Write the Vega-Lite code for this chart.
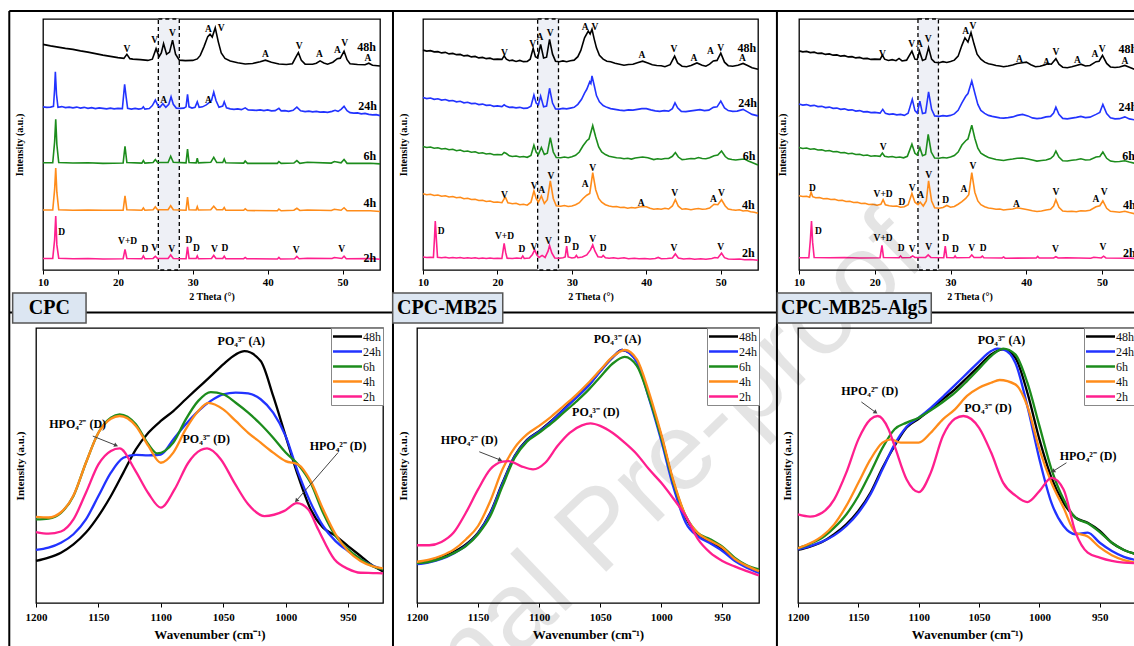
{
  "$schema": "https://vega.github.io/schema/vega-lite/v6.json",
  "autosize": {"type": "pad"},
  "padding": {"left": 7, "top": 9, "right": 0, "bottom": 0},
  "background": "white",
  "config": {
    "font": "Liberation Serif",
    "view": {"stroke": "#000", "strokeWidth": 1.3},
    "axis": {"domain": false, "grid": false, "tickColor": "#000", "tickSize": 4, "tickWidth": 1, "labelColor": "#000", "labelFontWeight": "bold", "titleColor": "#000", "titleFontWeight": "bold", "labelFont": "Liberation Serif", "titleFont": "Liberation Serif", "labelFlush": false},
    "text": {"font": "Liberation Serif", "fontWeight": "bold", "color": "#000"}
  },
  "datasets": {
    "x1": [
      {"t":"48h","x":10,"y":89.9},{"t":"48h","x":11,"y":89.3},{"t":"48h","x":12,"y":88.8},{"t":"48h","x":13,"y":88.3},{"t":"48h","x":14,"y":87.9},{"t":"48h","x":15,"y":87.3},{"t":"48h","x":16,"y":86.8},{"t":"48h","x":17,"y":86.2},{"t":"48h","x":18,"y":85.6},{"t":"48h","x":19,"y":85.1},{"t":"48h","x":20,"y":84.6},{"t":"48h","x":20.8,"y":84.3},{"t":"48h","x":21.2,"y":85.9},{"t":"48h","x":21.6,"y":84.2},{"t":"48h","x":22,"y":84},{"t":"48h","x":23,"y":83.8},{"t":"48h","x":24,"y":83.5},{"t":"48h","x":24.6,"y":84},{"t":"48h","x":25.1,"y":88.2},{"t":"48h","x":25.5,"y":85},{"t":"48h","x":25.8,"y":86.5},{"t":"48h","x":26.1,"y":90.2},{"t":"48h","x":26.5,"y":86},{"t":"48h","x":26.9,"y":86.8},{"t":"48h","x":27.3,"y":91.6},{"t":"48h","x":27.7,"y":86},{"t":"48h","x":28.2,"y":83.6},{"t":"48h","x":29,"y":83.4},{"t":"48h","x":30,"y":83.5},{"t":"48h","x":30.6,"y":84.1},{"t":"48h","x":31,"y":85.5},{"t":"48h","x":31.5,"y":89},{"t":"48h","x":32,"y":93},{"t":"48h","x":32.3,"y":93.9},{"t":"48h","x":32.6,"y":92.8},{"t":"48h","x":33,"y":96.5},{"t":"48h","x":33.4,"y":91},{"t":"48h","x":33.8,"y":86.5},{"t":"48h","x":34.3,"y":84.3},{"t":"48h","x":35,"y":83.3},{"t":"48h","x":36,"y":82.6},{"t":"48h","x":37,"y":82.1},{"t":"48h","x":38,"y":82.3},{"t":"48h","x":39,"y":83},{"t":"48h","x":39.7,"y":83.6},{"t":"48h","x":40.5,"y":82.8},{"t":"48h","x":41.5,"y":82.1},{"t":"48h","x":42.5,"y":81.9},{"t":"48h","x":43.3,"y":82.2},{"t":"48h","x":43.8,"y":85},{"t":"48h","x":44.1,"y":86.6},{"t":"48h","x":44.5,"y":83.5},{"t":"48h","x":45,"y":82},{"t":"48h","x":46,"y":82},{"t":"48h","x":46.5,"y":82.4},{"t":"48h","x":47,"y":83.3},{"t":"48h","x":47.5,"y":82.5},{"t":"48h","x":48,"y":82},{"t":"48h","x":48.7,"y":82.8},{"t":"48h","x":49.3,"y":84.2},{"t":"48h","x":49.7,"y":84.4},{"t":"48h","x":50.2,"y":87.2},{"t":"48h","x":50.6,"y":83.8},{"t":"48h","x":51,"y":82.2},{"t":"48h","x":52,"y":81.9},{"t":"48h","x":53,"y":81.8},{"t":"48h","x":53.5,"y":82.4},{"t":"48h","x":54,"y":81.6},{"t":"48h","x":55,"y":81.3},
      {"t":"24h","x":10,"y":65},{"t":"24h","x":10.5,"y":64.8},{"t":"24h","x":11,"y":64.9},{"t":"24h","x":11.4,"y":65.2},{"t":"24h","x":11.55,"y":72},{"t":"24h","x":11.65,"y":79},{"t":"24h","x":11.8,"y":70},{"t":"24h","x":12,"y":64.8},{"t":"24h","x":12.5,"y":65.1},{"t":"24h","x":13,"y":64.7},{"t":"24h","x":13.5,"y":64.9},{"t":"24h","x":14,"y":64.6},{"t":"24h","x":14.5,"y":64.9},{"t":"24h","x":15,"y":64.5},{"t":"24h","x":15.5,"y":64.8},{"t":"24h","x":16,"y":64.4},{"t":"24h","x":16.5,"y":64.7},{"t":"24h","x":17,"y":64.3},{"t":"24h","x":17.5,"y":64.6},{"t":"24h","x":18,"y":64.4},{"t":"24h","x":18.5,"y":64.2},{"t":"24h","x":19,"y":64.5},{"t":"24h","x":19.5,"y":64.2},{"t":"24h","x":20,"y":64.4},{"t":"24h","x":20.6,"y":64.3},{"t":"24h","x":20.9,"y":74},{"t":"24h","x":21.1,"y":69},{"t":"24h","x":21.3,"y":64.4},{"t":"24h","x":21.8,"y":64.1},{"t":"24h","x":22.3,"y":64.4},{"t":"24h","x":22.8,"y":64.1},{"t":"24h","x":23.2,"y":64.3},{"t":"24h","x":23.4,"y":65},{"t":"24h","x":23.6,"y":64.1},{"t":"24h","x":24.2,"y":64.3},{"t":"24h","x":24.6,"y":65.5},{"t":"24h","x":25,"y":67.7},{"t":"24h","x":25.3,"y":65.8},{"t":"24h","x":25.6,"y":64.8},{"t":"24h","x":26,"y":66.2},{"t":"24h","x":26.4,"y":64.8},{"t":"24h","x":26.8,"y":66},{"t":"24h","x":27.1,"y":69},{"t":"24h","x":27.4,"y":66},{"t":"24h","x":27.8,"y":64.5},{"t":"24h","x":28.3,"y":64.4},{"t":"24h","x":28.8,"y":64.5},{"t":"24h","x":29.1,"y":65},{"t":"24h","x":29.3,"y":70},{"t":"24h","x":29.5,"y":65},{"t":"24h","x":29.9,"y":64.5},{"t":"24h","x":30.3,"y":64.8},{"t":"24h","x":30.6,"y":67},{"t":"24h","x":30.85,"y":64.8},{"t":"24h","x":31.3,"y":65},{"t":"24h","x":31.8,"y":65.8},{"t":"24h","x":32.1,"y":66.5},{"t":"24h","x":32.5,"y":67.5},{"t":"24h","x":32.8,"y":70.9},{"t":"24h","x":33.1,"y":67.5},{"t":"24h","x":33.5,"y":64.8},{"t":"24h","x":34,"y":65.3},{"t":"24h","x":34.2,"y":67},{"t":"24h","x":34.5,"y":64.6},{"t":"24h","x":35,"y":64.2},{"t":"24h","x":35.5,"y":64},{"t":"24h","x":36,"y":64.2},{"t":"24h","x":36.5,"y":63.9},{"t":"24h","x":37,"y":64.6},{"t":"24h","x":37.4,"y":63.8},{"t":"24h","x":38,"y":63.7},{"t":"24h","x":38.5,"y":63.6},{"t":"24h","x":39,"y":63.8},{"t":"24h","x":39.5,"y":63.5},{"t":"24h","x":40,"y":63.8},{"t":"24h","x":40.5,"y":63.4},{"t":"24h","x":41,"y":63.5},{"t":"24h","x":41.5,"y":64.4},{"t":"24h","x":41.8,"y":63.4},{"t":"24h","x":42.3,"y":63.5},{"t":"24h","x":42.8,"y":63.2},{"t":"24h","x":43.4,"y":63.6},{"t":"24h","x":43.9,"y":64.9},{"t":"24h","x":44.4,"y":63.4},{"t":"24h","x":45,"y":63.1},{"t":"24h","x":45.5,"y":63.3},{"t":"24h","x":46,"y":63},{"t":"24h","x":46.5,"y":63.2},{"t":"24h","x":47,"y":62.9},{"t":"24h","x":47.5,"y":63},{"t":"24h","x":48,"y":62.8},{"t":"24h","x":48.6,"y":63.2},{"t":"24h","x":49,"y":63.6},{"t":"24h","x":49.4,"y":63.2},{"t":"24h","x":49.8,"y":64},{"t":"24h","x":50.2,"y":65.2},{"t":"24h","x":50.6,"y":63.5},{"t":"24h","x":51,"y":62.7},{"t":"24h","x":51.5,"y":62.5},{"t":"24h","x":52,"y":62.6},{"t":"24h","x":52.5,"y":62.2},{"t":"24h","x":53,"y":62.4},{"t":"24h","x":53.5,"y":62},{"t":"24h","x":54,"y":61.8},{"t":"24h","x":54.5,"y":61.9},{"t":"24h","x":55,"y":61.5},
      {"t":"6h","x":10,"y":42.7},{"t":"6h","x":11.3,"y":42.7},{"t":"6h","x":11.55,"y":51},{"t":"6h","x":11.7,"y":60},{"t":"6h","x":11.85,"y":50},{"t":"6h","x":12.1,"y":42.8},{"t":"6h","x":14,"y":42.6},{"t":"6h","x":16,"y":42.7},{"t":"6h","x":18,"y":42.5},{"t":"6h","x":20.7,"y":42.6},{"t":"6h","x":20.95,"y":49.3},{"t":"6h","x":21.2,"y":42.8},{"t":"6h","x":23.2,"y":42.6},{"t":"6h","x":23.4,"y":43.6},{"t":"6h","x":23.6,"y":42.6},{"t":"6h","x":24.7,"y":42.8},{"t":"6h","x":25,"y":44},{"t":"6h","x":25.3,"y":42.8},{"t":"6h","x":26.7,"y":42.8},{"t":"6h","x":27.05,"y":45.3},{"t":"6h","x":27.4,"y":42.9},{"t":"6h","x":29.1,"y":42.7},{"t":"6h","x":29.3,"y":48.2},{"t":"6h","x":29.5,"y":42.8},{"t":"6h","x":30.45,"y":42.7},{"t":"6h","x":30.6,"y":44.5},{"t":"6h","x":30.75,"y":42.7},{"t":"6h","x":32.4,"y":42.9},{"t":"6h","x":32.8,"y":44.9},{"t":"6h","x":33.2,"y":42.8},{"t":"6h","x":34,"y":42.8},{"t":"6h","x":34.2,"y":44.2},{"t":"6h","x":34.4,"y":42.7},{"t":"6h","x":36.8,"y":42.6},{"t":"6h","x":37,"y":43.4},{"t":"6h","x":37.3,"y":42.5},{"t":"6h","x":41.3,"y":42.5},{"t":"6h","x":41.5,"y":43.2},{"t":"6h","x":41.8,"y":42.5},{"t":"6h","x":43.5,"y":42.6},{"t":"6h","x":43.9,"y":43.6},{"t":"6h","x":44.3,"y":42.5},{"t":"6h","x":45.3,"y":42.9},{"t":"6h","x":48.5,"y":42.6},{"t":"6h","x":48.9,"y":43.2},{"t":"6h","x":49.8,"y":42.7},{"t":"6h","x":50.2,"y":44},{"t":"6h","x":50.6,"y":42.5},{"t":"6h","x":53.7,"y":42.5},{"t":"6h","x":55,"y":42.3},
      {"t":"4h","x":10,"y":23.9},{"t":"4h","x":11.3,"y":23.9},{"t":"4h","x":11.55,"y":32},{"t":"4h","x":11.7,"y":40.6},{"t":"4h","x":11.85,"y":31},{"t":"4h","x":12.1,"y":24},{"t":"4h","x":14,"y":23.8},{"t":"4h","x":16,"y":23.9},{"t":"4h","x":18,"y":23.8},{"t":"4h","x":20.7,"y":23.8},{"t":"4h","x":20.95,"y":29.5},{"t":"4h","x":21.2,"y":24},{"t":"4h","x":23.2,"y":23.8},{"t":"4h","x":23.4,"y":24.7},{"t":"4h","x":23.6,"y":23.8},{"t":"4h","x":24.7,"y":24},{"t":"4h","x":25,"y":25.2},{"t":"4h","x":25.3,"y":24},{"t":"4h","x":26.7,"y":24},{"t":"4h","x":27.05,"y":25.6},{"t":"4h","x":27.4,"y":24},{"t":"4h","x":29.1,"y":23.8},{"t":"4h","x":29.3,"y":29},{"t":"4h","x":29.5,"y":24},{"t":"4h","x":30.45,"y":23.9},{"t":"4h","x":30.6,"y":25.2},{"t":"4h","x":30.75,"y":23.9},{"t":"4h","x":32.4,"y":24},{"t":"4h","x":32.8,"y":25.4},{"t":"4h","x":33.2,"y":24},{"t":"4h","x":34,"y":24},{"t":"4h","x":34.2,"y":24.9},{"t":"4h","x":34.4,"y":23.8},{"t":"4h","x":36.8,"y":23.8},{"t":"4h","x":37,"y":24.4},{"t":"4h","x":37.3,"y":23.7},{"t":"4h","x":41.3,"y":23.6},{"t":"4h","x":41.5,"y":24.3},{"t":"4h","x":41.8,"y":23.6},{"t":"4h","x":43.5,"y":23.8},{"t":"4h","x":43.9,"y":24.6},{"t":"4h","x":44.3,"y":23.7},{"t":"4h","x":45.3,"y":23.9},{"t":"4h","x":48.5,"y":23.7},{"t":"4h","x":48.9,"y":24.2},{"t":"4h","x":49.8,"y":23.8},{"t":"4h","x":50.2,"y":24.8},{"t":"4h","x":50.6,"y":23.6},{"t":"4h","x":53.7,"y":23.6},{"t":"4h","x":55,"y":23.3},
      {"t":"2h","x":10,"y":4.6},{"t":"2h","x":11.3,"y":4.6},{"t":"2h","x":11.55,"y":12},{"t":"2h","x":11.7,"y":21.5},{"t":"2h","x":11.85,"y":10},{"t":"2h","x":12.1,"y":4.7},{"t":"2h","x":14,"y":4.5},{"t":"2h","x":16,"y":4.6},{"t":"2h","x":18,"y":4.4},{"t":"2h","x":20.7,"y":4.5},{"t":"2h","x":20.95,"y":8.2},{"t":"2h","x":21.2,"y":4.6},{"t":"2h","x":23.2,"y":4.5},{"t":"2h","x":23.4,"y":5.6},{"t":"2h","x":23.6,"y":4.5},{"t":"2h","x":24.7,"y":4.6},{"t":"2h","x":25,"y":5.4},{"t":"2h","x":25.3,"y":4.6},{"t":"2h","x":26.7,"y":4.6},{"t":"2h","x":27.05,"y":6},{"t":"2h","x":27.4,"y":4.6},{"t":"2h","x":29.1,"y":4.5},{"t":"2h","x":29.3,"y":9.2},{"t":"2h","x":29.5,"y":4.6},{"t":"2h","x":30.45,"y":4.6},{"t":"2h","x":30.6,"y":5.6},{"t":"2h","x":30.75,"y":4.5},{"t":"2h","x":32.5,"y":4.6},{"t":"2h","x":32.8,"y":5.8},{"t":"2h","x":33.1,"y":4.6},{"t":"2h","x":34,"y":4.6},{"t":"2h","x":34.2,"y":5.5},{"t":"2h","x":34.4,"y":4.5},{"t":"2h","x":36.8,"y":4.5},{"t":"2h","x":37,"y":5},{"t":"2h","x":37.2,"y":4.5},{"t":"2h","x":41.3,"y":4.4},{"t":"2h","x":41.5,"y":5},{"t":"2h","x":41.7,"y":4.4},{"t":"2h","x":43.6,"y":4.5},{"t":"2h","x":43.9,"y":5.4},{"t":"2h","x":44.2,"y":4.5},{"t":"2h","x":45.3,"y":4.7},{"t":"2h","x":48.6,"y":4.6},{"t":"2h","x":48.9,"y":5},{"t":"2h","x":49.9,"y":4.6},{"t":"2h","x":50.2,"y":5.5},{"t":"2h","x":50.5,"y":4.5},{"t":"2h","x":53.7,"y":4.6},{"t":"2h","x":55,"y":4.3}
    ],
    "x2": [
      {"t":"48h","x":10,"y":87.6},{"t":"48h","x":10.5,"y":87.2},{"t":"48h","x":11,"y":87.4},{"t":"48h","x":11.5,"y":86.9},{"t":"48h","x":12,"y":87},{"t":"48h","x":12.5,"y":86.5},{"t":"48h","x":13,"y":86.7},{"t":"48h","x":13.5,"y":86.1},{"t":"48h","x":14,"y":86.3},{"t":"48h","x":14.5,"y":85.8},{"t":"48h","x":15,"y":85.9},{"t":"48h","x":15.5,"y":85.3},{"t":"48h","x":16,"y":85.5},{"t":"48h","x":16.5,"y":84.9},{"t":"48h","x":17,"y":85.1},{"t":"48h","x":17.5,"y":84.5},{"t":"48h","x":18,"y":84.7},{"t":"48h","x":18.5,"y":84.2},{"t":"48h","x":19,"y":84.4},{"t":"48h","x":19.5,"y":83.9},{"t":"48h","x":20,"y":84},{"t":"48h","x":20.6,"y":83.9},{"t":"48h","x":20.9,"y":85.3},{"t":"48h","x":21.2,"y":84},{"t":"48h","x":21.6,"y":83.4},{"t":"48h","x":22,"y":83.6},{"t":"48h","x":22.5,"y":83.1},{"t":"48h","x":23,"y":83.5},{"t":"48h","x":23.5,"y":83},{"t":"48h","x":24,"y":83.1},{"t":"48h","x":24.4,"y":84},{"t":"48h","x":24.8,"y":88.3},{"t":"48h","x":25.1,"y":85},{"t":"48h","x":25.4,"y":84.5},{"t":"48h","x":25.8,"y":89.9},{"t":"48h","x":26.2,"y":84.5},{"t":"48h","x":26.6,"y":84.8},{"t":"48h","x":27,"y":91.9},{"t":"48h","x":27.4,"y":86},{"t":"48h","x":27.8,"y":83.2},{"t":"48h","x":28.3,"y":83},{"t":"48h","x":28.8,"y":83.3},{"t":"48h","x":29.3,"y":83},{"t":"48h","x":29.8,"y":83.4},{"t":"48h","x":30.3,"y":83.6},{"t":"48h","x":30.8,"y":85},{"t":"48h","x":31.2,"y":87.5},{"t":"48h","x":31.7,"y":92.5},{"t":"48h","x":32.2,"y":95.2},{"t":"48h","x":32.45,"y":94},{"t":"48h","x":32.7,"y":95.9},{"t":"48h","x":33,"y":92},{"t":"48h","x":33.3,"y":88.5},{"t":"48h","x":33.7,"y":85.5},{"t":"48h","x":34.2,"y":84},{"t":"48h","x":34.7,"y":83.2},{"t":"48h","x":35.2,"y":83},{"t":"48h","x":35.8,"y":82.4},{"t":"48h","x":36.4,"y":82},{"t":"48h","x":37,"y":81.6},{"t":"48h","x":37.6,"y":81.9},{"t":"48h","x":38.2,"y":82},{"t":"48h","x":38.8,"y":82.6},{"t":"48h","x":39.5,"y":83.2},{"t":"48h","x":40.2,"y":82.5},{"t":"48h","x":40.8,"y":81.8},{"t":"48h","x":41.4,"y":81.5},{"t":"48h","x":42,"y":81.4},{"t":"48h","x":42.5,"y":81},{"t":"48h","x":43.2,"y":81.8},{"t":"48h","x":43.8,"y":85.2},{"t":"48h","x":44.2,"y":82.5},{"t":"48h","x":44.8,"y":81.2},{"t":"48h","x":45.4,"y":81},{"t":"48h","x":46,"y":81.5},{"t":"48h","x":46.8,"y":82.5},{"t":"48h","x":47.5,"y":81.6},{"t":"48h","x":48,"y":81.2},{"t":"48h","x":48.5,"y":82},{"t":"48h","x":49,"y":83.3},{"t":"48h","x":49.5,"y":83.5},{"t":"48h","x":50,"y":86.4},{"t":"48h","x":50.5,"y":82.8},{"t":"48h","x":51,"y":81.4},{"t":"48h","x":51.6,"y":81.2},{"t":"48h","x":52.3,"y":81.6},{"t":"48h","x":53,"y":82.3},{"t":"48h","x":53.6,"y":81.5},{"t":"48h","x":54.2,"y":80.6},{"t":"48h","x":55,"y":80},
      {"t":"24h","x":10,"y":68.7},{"t":"24h","x":10.5,"y":68.3},{"t":"24h","x":11,"y":68.5},{"t":"24h","x":11.5,"y":68},{"t":"24h","x":12,"y":68.2},{"t":"24h","x":12.5,"y":67.7},{"t":"24h","x":13,"y":67.9},{"t":"24h","x":13.5,"y":67.4},{"t":"24h","x":14,"y":67.5},{"t":"24h","x":14.5,"y":67},{"t":"24h","x":15,"y":67.2},{"t":"24h","x":15.5,"y":66.6},{"t":"24h","x":16,"y":66.8},{"t":"24h","x":16.5,"y":66.3},{"t":"24h","x":17,"y":66.4},{"t":"24h","x":17.5,"y":65.9},{"t":"24h","x":18,"y":66.1},{"t":"24h","x":18.5,"y":65.6},{"t":"24h","x":19,"y":65.7},{"t":"24h","x":19.5,"y":65.2},{"t":"24h","x":20,"y":65.4},{"t":"24h","x":20.6,"y":65.1},{"t":"24h","x":20.9,"y":65.8},{"t":"24h","x":21.2,"y":65.2},{"t":"24h","x":21.6,"y":64.8},{"t":"24h","x":22,"y":64.9},{"t":"24h","x":22.5,"y":64.6},{"t":"24h","x":23,"y":64.8},{"t":"24h","x":23.5,"y":64.4},{"t":"24h","x":24,"y":64.5},{"t":"24h","x":24.5,"y":65.3},{"t":"24h","x":24.9,"y":69.7},{"t":"24h","x":25.2,"y":66.5},{"t":"24h","x":25.5,"y":65.8},{"t":"24h","x":25.8,"y":69.3},{"t":"24h","x":26.2,"y":65},{"t":"24h","x":26.6,"y":65.3},{"t":"24h","x":27,"y":72.4},{"t":"24h","x":27.4,"y":66.5},{"t":"24h","x":27.8,"y":64.2},{"t":"24h","x":28.3,"y":64.1},{"t":"24h","x":28.8,"y":64.4},{"t":"24h","x":29.3,"y":64.2},{"t":"24h","x":29.8,"y":64.5},{"t":"24h","x":30.3,"y":64.8},{"t":"24h","x":30.8,"y":66},{"t":"24h","x":31.3,"y":68},{"t":"24h","x":31.7,"y":70.5},{"t":"24h","x":32,"y":72},{"t":"24h","x":32.4,"y":75},{"t":"24h","x":32.55,"y":74.3},{"t":"24h","x":32.7,"y":77.3},{"t":"24h","x":33,"y":73.5},{"t":"24h","x":33.3,"y":69.5},{"t":"24h","x":33.7,"y":67},{"t":"24h","x":34.2,"y":65.5},{"t":"24h","x":34.7,"y":64.8},{"t":"24h","x":35.2,"y":64.3},{"t":"24h","x":35.8,"y":64},{"t":"24h","x":36.4,"y":63.7},{"t":"24h","x":37,"y":63.5},{"t":"24h","x":37.6,"y":63.8},{"t":"24h","x":38.2,"y":63.7},{"t":"24h","x":38.8,"y":64},{"t":"24h","x":39.4,"y":64.3},{"t":"24h","x":40,"y":64.3},{"t":"24h","x":40.6,"y":63.8},{"t":"24h","x":41.2,"y":63.4},{"t":"24h","x":41.8,"y":63.2},{"t":"24h","x":42.4,"y":63.5},{"t":"24h","x":43,"y":63.3},{"t":"24h","x":43.5,"y":64.3},{"t":"24h","x":43.85,"y":66.6},{"t":"24h","x":44.2,"y":64.6},{"t":"24h","x":44.7,"y":63.2},{"t":"24h","x":45.3,"y":63.1},{"t":"24h","x":46,"y":63.4},{"t":"24h","x":46.5,"y":63.6},{"t":"24h","x":47.2,"y":63.9},{"t":"24h","x":47.8,"y":63.5},{"t":"24h","x":48.4,"y":63.7},{"t":"24h","x":49,"y":64.8},{"t":"24h","x":49.5,"y":65},{"t":"24h","x":50,"y":67.3},{"t":"24h","x":50.5,"y":64.6},{"t":"24h","x":51,"y":63.5},{"t":"24h","x":51.6,"y":63.2},{"t":"24h","x":52.2,"y":63.3},{"t":"24h","x":53,"y":64},{"t":"24h","x":53.6,"y":63},{"t":"24h","x":54.2,"y":62},{"t":"24h","x":55,"y":61.4},
      {"t":"6h","x":10,"y":49.2},{"t":"6h","x":10.5,"y":48.8},{"t":"6h","x":11,"y":49},{"t":"6h","x":11.5,"y":48.5},{"t":"6h","x":12,"y":48.7},{"t":"6h","x":12.5,"y":48.2},{"t":"6h","x":13,"y":48.4},{"t":"6h","x":13.5,"y":47.9},{"t":"6h","x":14,"y":48.1},{"t":"6h","x":14.5,"y":47.5},{"t":"6h","x":15,"y":47.8},{"t":"6h","x":15.5,"y":47.2},{"t":"6h","x":16,"y":47.4},{"t":"6h","x":16.5,"y":46.9},{"t":"6h","x":17,"y":47.1},{"t":"6h","x":17.5,"y":46.5},{"t":"6h","x":18,"y":46.7},{"t":"6h","x":18.5,"y":46.2},{"t":"6h","x":19,"y":46.4},{"t":"6h","x":19.5,"y":45.9},{"t":"6h","x":20,"y":46},{"t":"6h","x":20.6,"y":45.9},{"t":"6h","x":20.9,"y":46.8},{"t":"6h","x":21.2,"y":46.4},{"t":"6h","x":21.6,"y":45.5},{"t":"6h","x":22,"y":45.2},{"t":"6h","x":22.5,"y":45.4},{"t":"6h","x":23,"y":45},{"t":"6h","x":23.5,"y":45.2},{"t":"6h","x":24,"y":44.9},{"t":"6h","x":24.5,"y":45.6},{"t":"6h","x":24.9,"y":49.7},{"t":"6h","x":25.2,"y":47},{"t":"6h","x":25.5,"y":46},{"t":"6h","x":25.9,"y":48.8},{"t":"6h","x":26.3,"y":46},{"t":"6h","x":26.7,"y":46.5},{"t":"6h","x":27.1,"y":52.7},{"t":"6h","x":27.5,"y":47},{"t":"6h","x":27.9,"y":44.8},{"t":"6h","x":28.5,"y":44.7},{"t":"6h","x":29,"y":45},{"t":"6h","x":29.5,"y":44.7},{"t":"6h","x":30,"y":45.1},{"t":"6h","x":30.5,"y":45.7},{"t":"6h","x":31,"y":47},{"t":"6h","x":31.5,"y":49.5},{"t":"6h","x":32,"y":51.5},{"t":"6h","x":32.3,"y":52.2},{"t":"6h","x":32.8,"y":57.5},{"t":"6h","x":33.2,"y":53},{"t":"6h","x":33.6,"y":49},{"t":"6h","x":34,"y":47},{"t":"6h","x":34.5,"y":46},{"t":"6h","x":35,"y":45.3},{"t":"6h","x":35.5,"y":45},{"t":"6h","x":36,"y":44.7},{"t":"6h","x":36.5,"y":44.6},{"t":"6h","x":37,"y":44.3},{"t":"6h","x":37.5,"y":44.5},{"t":"6h","x":38,"y":44.2},{"t":"6h","x":38.5,"y":44.6},{"t":"6h","x":39.5,"y":45},{"t":"6h","x":40.2,"y":44.7},{"t":"6h","x":41,"y":44},{"t":"6h","x":41.5,"y":44.3},{"t":"6h","x":42,"y":44.1},{"t":"6h","x":42.5,"y":44.4},{"t":"6h","x":43,"y":44.4},{"t":"6h","x":43.5,"y":45.3},{"t":"6h","x":43.9,"y":46.8},{"t":"6h","x":44.3,"y":45},{"t":"6h","x":44.8,"y":44},{"t":"6h","x":45.3,"y":44.1},{"t":"6h","x":46,"y":44.4},{"t":"6h","x":46.5,"y":44.3},{"t":"6h","x":47,"y":44.8},{"t":"6h","x":47.5,"y":44.4},{"t":"6h","x":48,"y":44.3},{"t":"6h","x":48.5,"y":44.7},{"t":"6h","x":49.1,"y":45.5},{"t":"6h","x":49.6,"y":45.8},{"t":"6h","x":50.1,"y":47.4},{"t":"6h","x":50.6,"y":45.2},{"t":"6h","x":51,"y":44.3},{"t":"6h","x":51.5,"y":44},{"t":"6h","x":52,"y":43.8},{"t":"6h","x":52.5,"y":44},{"t":"6h","x":53.2,"y":44.2},{"t":"6h","x":53.7,"y":43.4},{"t":"6h","x":54.2,"y":42.8},{"t":"6h","x":55,"y":41.8},
      {"t":"4h","x":10,"y":30.4},{"t":"4h","x":10.5,"y":30},{"t":"4h","x":11,"y":30.2},{"t":"4h","x":11.5,"y":29.7},{"t":"4h","x":12,"y":29.9},{"t":"4h","x":12.5,"y":29.4},{"t":"4h","x":13,"y":29.6},{"t":"4h","x":13.5,"y":29.1},{"t":"4h","x":14,"y":29.3},{"t":"4h","x":14.5,"y":28.8},{"t":"4h","x":15,"y":29},{"t":"4h","x":15.5,"y":28.4},{"t":"4h","x":16,"y":28.6},{"t":"4h","x":16.5,"y":28.1},{"t":"4h","x":17,"y":28.2},{"t":"4h","x":17.5,"y":27.7},{"t":"4h","x":18,"y":27.8},{"t":"4h","x":18.5,"y":27.3},{"t":"4h","x":19,"y":27.5},{"t":"4h","x":19.5,"y":27},{"t":"4h","x":20,"y":27.1},{"t":"4h","x":20.6,"y":26.8},{"t":"4h","x":20.9,"y":28.4},{"t":"4h","x":21.1,"y":28.8},{"t":"4h","x":21.4,"y":26.8},{"t":"4h","x":22,"y":26.4},{"t":"4h","x":22.5,"y":26.6},{"t":"4h","x":23,"y":26},{"t":"4h","x":23.5,"y":26.2},{"t":"4h","x":24,"y":25.8},{"t":"4h","x":24.5,"y":27},{"t":"4h","x":24.9,"y":31.5},{"t":"4h","x":25.2,"y":28.5},{"t":"4h","x":25.5,"y":27},{"t":"4h","x":25.9,"y":29.5},{"t":"4h","x":26.3,"y":26.5},{"t":"4h","x":26.7,"y":28},{"t":"4h","x":27.1,"y":35.5},{"t":"4h","x":27.5,"y":28.5},{"t":"4h","x":27.9,"y":25.6},{"t":"4h","x":28.5,"y":25.4},{"t":"4h","x":29,"y":25.7},{"t":"4h","x":29.5,"y":25.3},{"t":"4h","x":30,"y":25.5},{"t":"4h","x":30.5,"y":26},{"t":"4h","x":31,"y":26.8},{"t":"4h","x":31.5,"y":28.5},{"t":"4h","x":32,"y":29.8},{"t":"4h","x":32.4,"y":30.5},{"t":"4h","x":32.8,"y":38.8},{"t":"4h","x":33.2,"y":32},{"t":"4h","x":33.6,"y":28.5},{"t":"4h","x":34,"y":27},{"t":"4h","x":34.5,"y":26},{"t":"4h","x":35,"y":25.5},{"t":"4h","x":35.5,"y":25.2},{"t":"4h","x":36,"y":25.3},{"t":"4h","x":36.5,"y":24.9},{"t":"4h","x":37,"y":25},{"t":"4h","x":37.5,"y":24.6},{"t":"4h","x":38,"y":24.9},{"t":"4h","x":38.5,"y":24.7},{"t":"4h","x":39.3,"y":25.3},{"t":"4h","x":40,"y":25.2},{"t":"4h","x":40.5,"y":24.6},{"t":"4h","x":41,"y":24.2},{"t":"4h","x":41.5,"y":24.4},{"t":"4h","x":42,"y":24.2},{"t":"4h","x":42.5,"y":24.6},{"t":"4h","x":43,"y":24.3},{"t":"4h","x":43.5,"y":25.5},{"t":"4h","x":43.9,"y":28},{"t":"4h","x":44.3,"y":25.4},{"t":"4h","x":44.8,"y":24.2},{"t":"4h","x":45.3,"y":24.4},{"t":"4h","x":46,"y":24},{"t":"4h","x":46.5,"y":24.3},{"t":"4h","x":47,"y":24.5},{"t":"4h","x":47.5,"y":24.2},{"t":"4h","x":48,"y":24.3},{"t":"4h","x":48.5,"y":24.7},{"t":"4h","x":49.1,"y":26.2},{"t":"4h","x":49.6,"y":26},{"t":"4h","x":50.1,"y":28},{"t":"4h","x":50.6,"y":25.5},{"t":"4h","x":51,"y":24.3},{"t":"4h","x":51.5,"y":24},{"t":"4h","x":52,"y":23.8},{"t":"4h","x":52.5,"y":24},{"t":"4h","x":53,"y":23.5},{"t":"4h","x":53.5,"y":23.7},{"t":"4h","x":54,"y":23.2},{"t":"4h","x":54.5,"y":23},{"t":"4h","x":55,"y":22.6},
      {"t":"2h","x":10,"y":5.2},{"t":"2h","x":10.5,"y":5},{"t":"2h","x":11,"y":5.1},{"t":"2h","x":11.4,"y":5},{"t":"2h","x":11.55,"y":13},{"t":"2h","x":11.65,"y":19.5},{"t":"2h","x":11.8,"y":12},{"t":"2h","x":11.95,"y":5.1},{"t":"2h","x":12.5,"y":4.9},{"t":"2h","x":13,"y":5.1},{"t":"2h","x":13.5,"y":4.8},{"t":"2h","x":14,"y":5},{"t":"2h","x":14.5,"y":4.8},{"t":"2h","x":15,"y":5},{"t":"2h","x":15.5,"y":4.7},{"t":"2h","x":16,"y":4.9},{"t":"2h","x":16.5,"y":4.7},{"t":"2h","x":17,"y":4.9},{"t":"2h","x":17.5,"y":4.6},{"t":"2h","x":18,"y":4.8},{"t":"2h","x":18.5,"y":4.6},{"t":"2h","x":19,"y":4.8},{"t":"2h","x":19.5,"y":4.6},{"t":"2h","x":20,"y":4.7},{"t":"2h","x":20.6,"y":4.6},{"t":"2h","x":20.9,"y":10.6},{"t":"2h","x":21.1,"y":7},{"t":"2h","x":21.3,"y":4.7},{"t":"2h","x":22,"y":4.6},{"t":"2h","x":22.6,"y":4.8},{"t":"2h","x":23.2,"y":4.6},{"t":"2h","x":23.4,"y":5.6},{"t":"2h","x":23.6,"y":4.6},{"t":"2h","x":24.3,"y":4.8},{"t":"2h","x":24.7,"y":6.2},{"t":"2h","x":25,"y":8},{"t":"2h","x":25.3,"y":6},{"t":"2h","x":25.6,"y":5},{"t":"2h","x":26,"y":5.8},{"t":"2h","x":26.4,"y":5},{"t":"2h","x":26.8,"y":7.5},{"t":"2h","x":27,"y":9.8},{"t":"2h","x":27.3,"y":6.8},{"t":"2h","x":27.7,"y":4.8},{"t":"2h","x":28.3,"y":4.7},{"t":"2h","x":28.8,"y":4.9},{"t":"2h","x":29.1,"y":5.2},{"t":"2h","x":29.3,"y":9.5},{"t":"2h","x":29.5,"y":5.2},{"t":"2h","x":30,"y":4.8},{"t":"2h","x":30.4,"y":5},{"t":"2h","x":30.6,"y":5.8},{"t":"2h","x":30.8,"y":4.9},{"t":"2h","x":31.4,"y":5.2},{"t":"2h","x":32,"y":6},{"t":"2h","x":32.5,"y":8},{"t":"2h","x":32.8,"y":10},{"t":"2h","x":33.1,"y":7.5},{"t":"2h","x":33.5,"y":5.3},{"t":"2h","x":34,"y":5.1},{"t":"2h","x":34.2,"y":5.8},{"t":"2h","x":34.5,"y":4.9},{"t":"2h","x":35,"y":4.7},{"t":"2h","x":35.6,"y":4.9},{"t":"2h","x":36.2,"y":4.6},{"t":"2h","x":37,"y":4.9},{"t":"2h","x":37.6,"y":4.5},{"t":"2h","x":38.4,"y":4.7},{"t":"2h","x":39,"y":4.5},{"t":"2h","x":39.8,"y":4.6},{"t":"2h","x":40.5,"y":4.4},{"t":"2h","x":41.2,"y":4.6},{"t":"2h","x":41.6,"y":5},{"t":"2h","x":42,"y":4.5},{"t":"2h","x":42.8,"y":4.6},{"t":"2h","x":43.5,"y":4.8},{"t":"2h","x":43.9,"y":6.4},{"t":"2h","x":44.3,"y":4.8},{"t":"2h","x":45,"y":4.4},{"t":"2h","x":45.8,"y":4.6},{"t":"2h","x":46.5,"y":4.3},{"t":"2h","x":47.3,"y":4.5},{"t":"2h","x":48,"y":4.3},{"t":"2h","x":48.8,"y":4.6},{"t":"2h","x":49.2,"y":5},{"t":"2h","x":49.6,"y":4.8},{"t":"2h","x":50.1,"y":6.7},{"t":"2h","x":50.5,"y":4.9},{"t":"2h","x":51,"y":4.4},{"t":"2h","x":51.8,"y":4.3},{"t":"2h","x":52.5,"y":4.4},{"t":"2h","x":53.2,"y":4.1},{"t":"2h","x":54,"y":4.2},{"t":"2h","x":55,"y":3.9}
    ],
    "x3": [
      {"t":"48h","x":10,"y":87.3},{"t":"48h","x":10.5,"y":86.9},{"t":"48h","x":11,"y":87.1},{"t":"48h","x":11.5,"y":86.6},{"t":"48h","x":12,"y":86.8},{"t":"48h","x":12.5,"y":86.3},{"t":"48h","x":13,"y":86.4},{"t":"48h","x":13.5,"y":85.9},{"t":"48h","x":14,"y":86.1},{"t":"48h","x":14.5,"y":85.6},{"t":"48h","x":15,"y":85.7},{"t":"48h","x":15.5,"y":85.2},{"t":"48h","x":16,"y":85.4},{"t":"48h","x":16.5,"y":84.9},{"t":"48h","x":17,"y":85},{"t":"48h","x":17.5,"y":84.5},{"t":"48h","x":18,"y":84.7},{"t":"48h","x":18.5,"y":84.2},{"t":"48h","x":19,"y":84.3},{"t":"48h","x":19.5,"y":83.9},{"t":"48h","x":20,"y":84},{"t":"48h","x":20.7,"y":83.9},{"t":"48h","x":21,"y":85.6},{"t":"48h","x":21.3,"y":84},{"t":"48h","x":21.8,"y":83.5},{"t":"48h","x":22.3,"y":83.8},{"t":"48h","x":22.8,"y":83.4},{"t":"48h","x":23.2,"y":84.3},{"t":"48h","x":23.6,"y":83.3},{"t":"48h","x":24.2,"y":83.6},{"t":"48h","x":24.9,"y":87.2},{"t":"48h","x":25.3,"y":84},{"t":"48h","x":25.6,"y":83.8},{"t":"48h","x":25.9,"y":87.2},{"t":"48h","x":26.3,"y":83.5},{"t":"48h","x":26.7,"y":84},{"t":"48h","x":27.1,"y":88.6},{"t":"48h","x":27.5,"y":84},{"t":"48h","x":27.9,"y":82.8},{"t":"48h","x":28.5,"y":82.6},{"t":"48h","x":29,"y":83},{"t":"48h","x":29.5,"y":82.7},{"t":"48h","x":30,"y":83.1},{"t":"48h","x":30.5,"y":83.6},{"t":"48h","x":31,"y":85.2},{"t":"48h","x":31.5,"y":89.5},{"t":"48h","x":31.9,"y":92.5},{"t":"48h","x":32.3,"y":90.8},{"t":"48h","x":32.7,"y":94.6},{"t":"48h","x":33.1,"y":90},{"t":"48h","x":33.5,"y":86},{"t":"48h","x":34,"y":84},{"t":"48h","x":34.5,"y":82.8},{"t":"48h","x":35,"y":82.2},{"t":"48h","x":35.5,"y":81.9},{"t":"48h","x":36,"y":81.5},{"t":"48h","x":36.5,"y":81.3},{"t":"48h","x":37,"y":81},{"t":"48h","x":37.6,"y":81.3},{"t":"48h","x":38.2,"y":81.7},{"t":"48h","x":38.8,"y":82.3},{"t":"48h","x":39.5,"y":82.6},{"t":"48h","x":40,"y":82.8},{"t":"48h","x":40.6,"y":81.8},{"t":"48h","x":41.2,"y":81},{"t":"48h","x":41.8,"y":81.2},{"t":"48h","x":42.4,"y":81.7},{"t":"48h","x":42.8,"y":82.2},{"t":"48h","x":43.3,"y":82},{"t":"48h","x":43.9,"y":84.2},{"t":"48h","x":44.3,"y":82},{"t":"48h","x":44.8,"y":80.8},{"t":"48h","x":45.4,"y":80.6},{"t":"48h","x":46,"y":81},{"t":"48h","x":46.6,"y":81.5},{"t":"48h","x":47.2,"y":82},{"t":"48h","x":47.8,"y":81.3},{"t":"48h","x":48.4,"y":81.5},{"t":"48h","x":49.2,"y":83},{"t":"48h","x":49.6,"y":83.2},{"t":"48h","x":50.05,"y":85.5},{"t":"48h","x":50.6,"y":82.3},{"t":"48h","x":51.1,"y":80.9},{"t":"48h","x":51.7,"y":80.7},{"t":"48h","x":52.3,"y":80.9},{"t":"48h","x":53,"y":81.5},{"t":"48h","x":53.6,"y":80.8},{"t":"48h","x":54.3,"y":79.9},{"t":"48h","x":55,"y":79.3},
      {"t":"24h","x":10,"y":66.1},{"t":"24h","x":10.5,"y":65.7},{"t":"24h","x":11,"y":65.9},{"t":"24h","x":11.5,"y":65.4},{"t":"24h","x":12,"y":65.6},{"t":"24h","x":12.5,"y":65.1},{"t":"24h","x":13,"y":65.2},{"t":"24h","x":13.5,"y":64.7},{"t":"24h","x":14,"y":64.9},{"t":"24h","x":14.5,"y":64.4},{"t":"24h","x":15,"y":64.5},{"t":"24h","x":15.5,"y":64},{"t":"24h","x":16,"y":64.2},{"t":"24h","x":16.5,"y":63.7},{"t":"24h","x":17,"y":63.8},{"t":"24h","x":17.5,"y":63.3},{"t":"24h","x":18,"y":63.5},{"t":"24h","x":18.5,"y":63},{"t":"24h","x":19,"y":63.1},{"t":"24h","x":19.5,"y":62.7},{"t":"24h","x":20,"y":62.8},{"t":"24h","x":20.7,"y":62.5},{"t":"24h","x":21.05,"y":64},{"t":"24h","x":21.4,"y":62.4},{"t":"24h","x":21.9,"y":62},{"t":"24h","x":22.4,"y":62.2},{"t":"24h","x":22.9,"y":61.8},{"t":"24h","x":23.4,"y":62},{"t":"24h","x":23.9,"y":61.6},{"t":"24h","x":24.4,"y":62.5},{"t":"24h","x":24.95,"y":68},{"t":"24h","x":25.3,"y":63.5},{"t":"24h","x":25.6,"y":62.5},{"t":"24h","x":25.95,"y":67.3},{"t":"24h","x":26.3,"y":62.3},{"t":"24h","x":26.7,"y":62.6},{"t":"24h","x":27.1,"y":71},{"t":"24h","x":27.5,"y":64},{"t":"24h","x":27.9,"y":61.4},{"t":"24h","x":28.5,"y":61.2},{"t":"24h","x":29,"y":61.5},{"t":"24h","x":29.5,"y":61.3},{"t":"24h","x":30,"y":61.6},{"t":"24h","x":30.5,"y":62.2},{"t":"24h","x":31,"y":63.6},{"t":"24h","x":31.5,"y":66.6},{"t":"24h","x":32,"y":69.2},{"t":"24h","x":32.3,"y":70.3},{"t":"24h","x":32.8,"y":75.3},{"t":"24h","x":33.2,"y":70.5},{"t":"24h","x":33.6,"y":66},{"t":"24h","x":34,"y":63.6},{"t":"24h","x":34.5,"y":62.4},{"t":"24h","x":35,"y":61.6},{"t":"24h","x":35.5,"y":61.2},{"t":"24h","x":36,"y":60.9},{"t":"24h","x":36.5,"y":60.6},{"t":"24h","x":37,"y":60.5},{"t":"24h","x":37.6,"y":60.7},{"t":"24h","x":38.2,"y":61},{"t":"24h","x":38.8,"y":61.6},{"t":"24h","x":39.5,"y":62},{"t":"24h","x":40.2,"y":61.4},{"t":"24h","x":40.8,"y":60.6},{"t":"24h","x":41.4,"y":60.3},{"t":"24h","x":42,"y":60.5},{"t":"24h","x":42.6,"y":61},{"t":"24h","x":43.2,"y":61.2},{"t":"24h","x":43.6,"y":62.5},{"t":"24h","x":43.9,"y":64.9},{"t":"24h","x":44.3,"y":62},{"t":"24h","x":44.8,"y":60.4},{"t":"24h","x":45.4,"y":60.2},{"t":"24h","x":46,"y":60.5},{"t":"24h","x":46.6,"y":60.8},{"t":"24h","x":47.2,"y":61.2},{"t":"24h","x":47.8,"y":60.7},{"t":"24h","x":48.4,"y":60.9},{"t":"24h","x":49.2,"y":62},{"t":"24h","x":49.7,"y":62.8},{"t":"24h","x":50.1,"y":66},{"t":"24h","x":50.6,"y":62.3},{"t":"24h","x":51.1,"y":60.6},{"t":"24h","x":51.7,"y":60.2},{"t":"24h","x":52.3,"y":60.3},{"t":"24h","x":53,"y":61},{"t":"24h","x":53.6,"y":60.2},{"t":"24h","x":54.3,"y":59.8},{"t":"24h","x":55,"y":59.4},
      {"t":"6h","x":10,"y":48.8},{"t":"6h","x":10.5,"y":48.4},{"t":"6h","x":11,"y":48.6},{"t":"6h","x":11.5,"y":48.1},{"t":"6h","x":12,"y":48.3},{"t":"6h","x":12.5,"y":47.8},{"t":"6h","x":13,"y":47.9},{"t":"6h","x":13.5,"y":47.4},{"t":"6h","x":14,"y":47.6},{"t":"6h","x":14.5,"y":47.1},{"t":"6h","x":15,"y":47.2},{"t":"6h","x":15.5,"y":46.7},{"t":"6h","x":16,"y":46.8},{"t":"6h","x":16.5,"y":46.3},{"t":"6h","x":17,"y":46.5},{"t":"6h","x":17.5,"y":46},{"t":"6h","x":18,"y":46.1},{"t":"6h","x":18.5,"y":45.6},{"t":"6h","x":19,"y":45.8},{"t":"6h","x":19.5,"y":45.3},{"t":"6h","x":20,"y":45.5},{"t":"6h","x":20.7,"y":45.3},{"t":"6h","x":21,"y":46.6},{"t":"6h","x":21.3,"y":45.3},{"t":"6h","x":21.8,"y":45},{"t":"6h","x":22.3,"y":45.2},{"t":"6h","x":22.8,"y":44.8},{"t":"6h","x":23.3,"y":45},{"t":"6h","x":23.8,"y":44.7},{"t":"6h","x":24.3,"y":45.3},{"t":"6h","x":24.9,"y":50.1},{"t":"6h","x":25.3,"y":46.5},{"t":"6h","x":25.6,"y":45.8},{"t":"6h","x":25.95,"y":48.7},{"t":"6h","x":26.3,"y":45.5},{"t":"6h","x":26.7,"y":46},{"t":"6h","x":27.05,"y":54},{"t":"6h","x":27.45,"y":47},{"t":"6h","x":27.9,"y":44.6},{"t":"6h","x":28.5,"y":44.5},{"t":"6h","x":29,"y":44.8},{"t":"6h","x":29.5,"y":44.6},{"t":"6h","x":30,"y":45},{"t":"6h","x":30.5,"y":45.6},{"t":"6h","x":31,"y":47},{"t":"6h","x":31.5,"y":49.8},{"t":"6h","x":32,"y":51.5},{"t":"6h","x":32.3,"y":52.2},{"t":"6h","x":32.8,"y":57.7},{"t":"6h","x":33.2,"y":52.5},{"t":"6h","x":33.6,"y":48.5},{"t":"6h","x":34,"y":46.5},{"t":"6h","x":34.5,"y":45.6},{"t":"6h","x":35,"y":44.8},{"t":"6h","x":35.5,"y":44.4},{"t":"6h","x":36,"y":44},{"t":"6h","x":36.5,"y":43.8},{"t":"6h","x":37,"y":43.6},{"t":"6h","x":37.5,"y":43.9},{"t":"6h","x":38.2,"y":44.2},{"t":"6h","x":38.8,"y":44.5},{"t":"6h","x":39.5,"y":44.6},{"t":"6h","x":40.2,"y":44.2},{"t":"6h","x":40.8,"y":43.8},{"t":"6h","x":41.4,"y":43.4},{"t":"6h","x":42,"y":43.6},{"t":"6h","x":42.6,"y":43.8},{"t":"6h","x":43.2,"y":44.4},{"t":"6h","x":43.6,"y":45.5},{"t":"6h","x":43.9,"y":47.4},{"t":"6h","x":44.3,"y":45},{"t":"6h","x":44.8,"y":43.5},{"t":"6h","x":45.4,"y":43.4},{"t":"6h","x":46,"y":43.7},{"t":"6h","x":46.6,"y":43.9},{"t":"6h","x":47.2,"y":44.3},{"t":"6h","x":47.8,"y":43.8},{"t":"6h","x":48.4,"y":43.9},{"t":"6h","x":49.2,"y":45},{"t":"6h","x":49.7,"y":45.2},{"t":"6h","x":50.1,"y":47},{"t":"6h","x":50.6,"y":44.5},{"t":"6h","x":51.1,"y":43.4},{"t":"6h","x":51.7,"y":43.1},{"t":"6h","x":52.3,"y":43.2},{"t":"6h","x":53,"y":43.5},{"t":"6h","x":53.6,"y":43},{"t":"6h","x":54.3,"y":42.5},{"t":"6h","x":55,"y":42.2},
      {"t":"4h","x":10,"y":29.6},{"t":"4h","x":10.5,"y":29.3},{"t":"4h","x":11,"y":29.4},{"t":"4h","x":11.4,"y":29},{"t":"4h","x":11.6,"y":31},{"t":"4h","x":11.8,"y":29.2},{"t":"4h","x":12.2,"y":28.8},{"t":"4h","x":12.7,"y":28.9},{"t":"4h","x":13.2,"y":28.4},{"t":"4h","x":13.7,"y":28.5},{"t":"4h","x":14.2,"y":28.1},{"t":"4h","x":14.7,"y":28.2},{"t":"4h","x":15.2,"y":27.7},{"t":"4h","x":15.7,"y":27.8},{"t":"4h","x":16.2,"y":27.3},{"t":"4h","x":16.7,"y":27.4},{"t":"4h","x":17.2,"y":26.9},{"t":"4h","x":17.7,"y":27},{"t":"4h","x":18.2,"y":26.5},{"t":"4h","x":18.7,"y":26.6},{"t":"4h","x":19.2,"y":26.1},{"t":"4h","x":19.7,"y":26.2},{"t":"4h","x":20.3,"y":25.8},{"t":"4h","x":20.8,"y":26.2},{"t":"4h","x":21.1,"y":28},{"t":"4h","x":21.4,"y":26},{"t":"4h","x":21.9,"y":25.6},{"t":"4h","x":22.4,"y":25.4},{"t":"4h","x":22.9,"y":25.5},{"t":"4h","x":23.4,"y":25},{"t":"4h","x":23.9,"y":25.2},{"t":"4h","x":24.4,"y":26},{"t":"4h","x":24.9,"y":30.5},{"t":"4h","x":25.3,"y":27},{"t":"4h","x":25.7,"y":26},{"t":"4h","x":26,"y":27},{"t":"4h","x":26.4,"y":25.5},{"t":"4h","x":26.8,"y":27.5},{"t":"4h","x":27.1,"y":35.5},{"t":"4h","x":27.5,"y":27.5},{"t":"4h","x":27.9,"y":24.8},{"t":"4h","x":28.5,"y":24.6},{"t":"4h","x":29,"y":24.9},{"t":"4h","x":29.5,"y":25.7},{"t":"4h","x":30,"y":25},{"t":"4h","x":30.5,"y":25.3},{"t":"4h","x":31,"y":26.2},{"t":"4h","x":31.5,"y":27.2},{"t":"4h","x":32,"y":28.5},{"t":"4h","x":32.4,"y":30},{"t":"4h","x":32.8,"y":38.8},{"t":"4h","x":33.2,"y":31},{"t":"4h","x":33.6,"y":27.5},{"t":"4h","x":34,"y":26},{"t":"4h","x":34.5,"y":25.2},{"t":"4h","x":35,"y":24.7},{"t":"4h","x":35.5,"y":24.5},{"t":"4h","x":36,"y":24.2},{"t":"4h","x":36.5,"y":24.3},{"t":"4h","x":37,"y":23.9},{"t":"4h","x":37.5,"y":24.1},{"t":"4h","x":38.2,"y":24.3},{"t":"4h","x":38.8,"y":24.8},{"t":"4h","x":39.5,"y":24.4},{"t":"4h","x":40.2,"y":24},{"t":"4h","x":40.8,"y":23.6},{"t":"4h","x":41.4,"y":23.3},{"t":"4h","x":42,"y":23.5},{"t":"4h","x":42.6,"y":23.9},{"t":"4h","x":43.2,"y":24.2},{"t":"4h","x":43.6,"y":25.5},{"t":"4h","x":43.9,"y":28},{"t":"4h","x":44.3,"y":25},{"t":"4h","x":44.8,"y":23.5},{"t":"4h","x":45.4,"y":23.3},{"t":"4h","x":46,"y":23.4},{"t":"4h","x":46.6,"y":23.2},{"t":"4h","x":47.2,"y":23.6},{"t":"4h","x":47.8,"y":23.5},{"t":"4h","x":48.4,"y":23.8},{"t":"4h","x":49.2,"y":25.2},{"t":"4h","x":49.7,"y":25.6},{"t":"4h","x":50.1,"y":27.5},{"t":"4h","x":50.6,"y":24.6},{"t":"4h","x":51.1,"y":23.4},{"t":"4h","x":51.7,"y":23.2},{"t":"4h","x":52.3,"y":23},{"t":"4h","x":53,"y":23.4},{"t":"4h","x":53.6,"y":22.9},{"t":"4h","x":54.3,"y":22.4},{"t":"4h","x":55,"y":22},
      {"t":"2h","x":10,"y":4.9},{"t":"2h","x":11.3,"y":4.9},{"t":"2h","x":11.5,"y":12},{"t":"2h","x":11.65,"y":19.5},{"t":"2h","x":11.8,"y":11},{"t":"2h","x":12,"y":5},{"t":"2h","x":14,"y":4.9},{"t":"2h","x":16,"y":5},{"t":"2h","x":18,"y":4.8},{"t":"2h","x":20.7,"y":4.9},{"t":"2h","x":20.95,"y":9.8},{"t":"2h","x":21.15,"y":5},{"t":"2h","x":23.2,"y":4.9},{"t":"2h","x":23.4,"y":5.6},{"t":"2h","x":23.6,"y":4.9},{"t":"2h","x":24.7,"y":5},{"t":"2h","x":25,"y":5.6},{"t":"2h","x":25.3,"y":5},{"t":"2h","x":26.7,"y":5},{"t":"2h","x":27.05,"y":6},{"t":"2h","x":27.4,"y":5},{"t":"2h","x":29.1,"y":4.9},{"t":"2h","x":29.3,"y":9.5},{"t":"2h","x":29.5,"y":5},{"t":"2h","x":30.45,"y":4.9},{"t":"2h","x":30.6,"y":5.6},{"t":"2h","x":30.75,"y":4.9},{"t":"2h","x":32.5,"y":5},{"t":"2h","x":32.8,"y":6},{"t":"2h","x":33.1,"y":5},{"t":"2h","x":34,"y":5},{"t":"2h","x":34.2,"y":5.5},{"t":"2h","x":34.4,"y":4.9},{"t":"2h","x":36.8,"y":4.8},{"t":"2h","x":37,"y":5.2},{"t":"2h","x":37.2,"y":4.7},{"t":"2h","x":41.3,"y":4.8},{"t":"2h","x":41.5,"y":5.4},{"t":"2h","x":41.7,"y":4.8},{"t":"2h","x":43.6,"y":4.8},{"t":"2h","x":43.9,"y":5.3},{"t":"2h","x":44.2,"y":4.8},{"t":"2h","x":45.3,"y":4.9},{"t":"2h","x":48.5,"y":4.7},{"t":"2h","x":48.9,"y":5.1},{"t":"2h","x":49.9,"y":4.8},{"t":"2h","x":50.2,"y":5.5},{"t":"2h","x":50.5,"y":4.8},{"t":"2h","x":53.7,"y":4.7},{"t":"2h","x":55,"y":4.5}
    ],
    "k1": [
      {"s":"D","x":12.5,"y":15.3},{"s":"V+D","x":21.3,"y":11.6},{"s":"D","x":23.6,"y":8.2},{"s":"V","x":24.9,"y":8.6},{"s":"V","x":27.2,"y":8.2},{"s":"D","x":29.5,"y":11.8},{"s":"D","x":30.5,"y":8.9},{"s":"V","x":32.9,"y":8.2},{"s":"D","x":34.3,"y":8.6},{"s":"V","x":43.8,"y":7.8},{"s":"V","x":49.9,"y":8.2},
      {"s":"A","x":26.1,"y":67.7},{"s":"A","x":32.1,"y":67.9},
      {"s":"V","x":21.2,"y":87.9},{"s":"V","x":24.9,"y":91.6},{"s":"V","x":27.3,"y":94.5},{"s":"A","x":32.1,"y":95.9},{"s":"V","x":33.8,"y":96.3},{"s":"A","x":39.7,"y":85.9},{"s":"V","x":44.2,"y":89.2},{"s":"A","x":46.9,"y":86.2},{"s":"A","x":49.3,"y":87.6},{"s":"V","x":50.3,"y":90.6},{"s":"A","x":53.4,"y":84.6}
    ],
    "k2": [
      {"s":"D","x":12.45,"y":15.5},{"s":"V+D","x":20.95,"y":13.5},{"s":"D","x":23.3,"y":8.2},{"s":"V","x":24.9,"y":9.2},{"s":"V","x":26.85,"y":11.6},{"s":"D","x":29.45,"y":11.8},{"s":"D","x":30.5,"y":9.2},{"s":"V","x":32.8,"y":12.2},{"s":"D","x":34.2,"y":8.9},{"s":"V","x":43.7,"y":8.9},{"s":"V","x":50,"y":9.2},
      {"s":"V","x":20.95,"y":29.8},{"s":"V","x":24.95,"y":33.5},{"s":"A","x":25.95,"y":31.8},{"s":"V","x":27.2,"y":37.5},{"s":"A","x":31.8,"y":34.4},{"s":"V","x":32.8,"y":40.8},{"s":"A","x":39.3,"y":26.6},{"s":"V","x":43.8,"y":30.5},{"s":"A","x":49,"y":28.2},{"s":"V","x":50.1,"y":30.5},
      {"s":"V","x":20.95,"y":86.6},{"s":"V","x":24.75,"y":90.2},{"s":"A","x":25.7,"y":92.8},{"s":"V","x":27.1,"y":94.5},{"s":"A","x":31.8,"y":96.8},{"s":"V","x":33.1,"y":96.8},{"s":"A","x":39.4,"y":85.5},{"s":"V","x":43.7,"y":87.9},{"s":"A","x":46.4,"y":84.3},{"s":"A","x":48.6,"y":87.3},{"s":"V","x":50,"y":88.6},{"s":"A","x":52.9,"y":84.3}
    ],
    "k3": [
      {"s":"D","x":12.55,"y":15.5},{"s":"V+D","x":21.1,"y":12.6},{"s":"D","x":23.5,"y":8.6},{"s":"V","x":24.95,"y":8.2},{"s":"V","x":27.1,"y":9.2},{"s":"D","x":29.35,"y":12.6},{"s":"D","x":30.66,"y":8.2},{"s":"V","x":32.8,"y":8.9},{"s":"D","x":34.3,"y":8.9},{"s":"V","x":43.85,"y":8.2},{"s":"V","x":50.1,"y":9.2},
      {"s":"D","x":11.77,"y":32.5},{"s":"V+D","x":21.1,"y":30.4},{"s":"D","x":23.6,"y":27.2},{"s":"V","x":24.95,"y":32.8},{"s":"A","x":26.05,"y":30},{"s":"V","x":27.1,"y":37.8},{"s":"D","x":29.35,"y":27.8},{"s":"A","x":31.76,"y":32.2},{"s":"V","x":32.95,"y":41.4},{"s":"A","x":38.7,"y":26.4},{"s":"V","x":43.9,"y":31.1},{"s":"A","x":49.2,"y":28.4},{"s":"V","x":50.27,"y":31.1},
      {"s":"V","x":21.1,"y":49},
      {"s":"V","x":21,"y":86.2},{"s":"V","x":24.86,"y":89.9},{"s":"A","x":25.9,"y":89.9},{"s":"V","x":27.06,"y":91.9},{"s":"A","x":32,"y":95.2},{"s":"V","x":32.95,"y":97.2},{"s":"A","x":39.1,"y":83.9},{"s":"A","x":42.66,"y":82.9},{"s":"V","x":43.9,"y":87},{"s":"A","x":46.75,"y":83.8},{"s":"A","x":49.04,"y":85.9},{"s":"V","x":50,"y":87.9},{"s":"A","x":53,"y":83.3}
    ],
    "n1": [{"s":"48h","x":53.2,"y":88.8},{"s":"24h","x":53.35,"y":65.3},{"s":"6h","x":53.65,"y":45.4},{"s":"4h","x":53.65,"y":26.8},{"s":"2h","x":53.65,"y":4.8}],
    "n2": [{"s":"48h","x":53.5,"y":88.6},{"s":"24h","x":53.6,"y":66.7},{"s":"6h","x":53.8,"y":45.4},{"s":"4h","x":53.7,"y":25.9},{"s":"2h","x":53.7,"y":6.6}],
    "n3": [{"s":"48h","x":53.4,"y":87.9},{"s":"24h","x":53.4,"y":64.9},{"s":"6h","x":53.5,"y":45.4},{"s":"4h","x":53.6,"y":25.9},{"s":"2h","x":53.6,"y":6.9}],
    "f1": [
      {"t":"48h","x":1200,"y":15.3},{"t":"48h","x":1190,"y":16.5},{"t":"48h","x":1180,"y":18.3},{"t":"48h","x":1170,"y":21.3},{"t":"48h","x":1160,"y":25.6},{"t":"48h","x":1150,"y":31.6},{"t":"48h","x":1140,"y":38.9},{"t":"48h","x":1130,"y":47.4},{"t":"48h","x":1120,"y":55.9},{"t":"48h","x":1110,"y":61.9},{"t":"48h","x":1100,"y":66.2},{"t":"48h","x":1090,"y":69.8},{"t":"48h","x":1080,"y":74.1},{"t":"48h","x":1070,"y":78.3},{"t":"48h","x":1060,"y":82.5},{"t":"48h","x":1050,"y":86.8},{"t":"48h","x":1040,"y":90.4},{"t":"48h","x":1033,"y":91.6},{"t":"48h","x":1020,"y":88},{"t":"48h","x":1010,"y":75.3},{"t":"48h","x":1000,"y":60.7},{"t":"48h","x":990,"y":46.2},{"t":"48h","x":980,"y":34.1},{"t":"48h","x":970,"y":27.4},{"t":"48h","x":960,"y":24.4},{"t":"48h","x":950,"y":20.7},{"t":"48h","x":940,"y":17.1},{"t":"48h","x":930,"y":13.5},{"t":"48h","x":922,"y":11.5},
      {"t":"24h","x":1200,"y":19.3},{"t":"24h","x":1190,"y":20.1},{"t":"24h","x":1180,"y":21.9},{"t":"24h","x":1170,"y":25},{"t":"24h","x":1160,"y":30.4},{"t":"24h","x":1150,"y":38.9},{"t":"24h","x":1140,"y":47.4},{"t":"24h","x":1130,"y":52.8},{"t":"24h","x":1120,"y":53.9},{"t":"24h","x":1110,"y":53.7},{"t":"24h","x":1100,"y":54},{"t":"24h","x":1090,"y":59.5},{"t":"24h","x":1080,"y":65},{"t":"24h","x":1070,"y":69.8},{"t":"24h","x":1060,"y":73.5},{"t":"24h","x":1050,"y":75.9},{"t":"24h","x":1040,"y":76.5},{"t":"24h","x":1030,"y":76.2},{"t":"24h","x":1020,"y":74.1},{"t":"24h","x":1010,"y":69.2},{"t":"24h","x":1000,"y":60.7},{"t":"24h","x":990,"y":47.4},{"t":"24h","x":980,"y":36.5},{"t":"24h","x":970,"y":28},{"t":"24h","x":960,"y":22.5},{"t":"24h","x":950,"y":18.9},{"t":"24h","x":940,"y":15.9},{"t":"24h","x":930,"y":13.5},{"t":"24h","x":922,"y":12.2},
      {"t":"6h","x":1200,"y":30.4},{"t":"6h","x":1190,"y":30.7},{"t":"6h","x":1180,"y":32.8},{"t":"6h","x":1170,"y":38.9},{"t":"6h","x":1160,"y":51},{"t":"6h","x":1150,"y":61.9},{"t":"6h","x":1140,"y":67.4},{"t":"6h","x":1133,"y":68.6},{"t":"6h","x":1120,"y":65},{"t":"6h","x":1110,"y":57.7},{"t":"6h","x":1103,"y":54.4},{"t":"6h","x":1090,"y":58.3},{"t":"6h","x":1080,"y":66.8},{"t":"6h","x":1070,"y":73.5},{"t":"6h","x":1060,"y":76.7},{"t":"6h","x":1050,"y":75.9},{"t":"6h","x":1040,"y":72.8},{"t":"6h","x":1030,"y":69.2},{"t":"6h","x":1020,"y":65},{"t":"6h","x":1010,"y":60.1},{"t":"6h","x":1000,"y":54.7},{"t":"6h","x":990,"y":50.4},{"t":"6h","x":980,"y":43.7},{"t":"6h","x":970,"y":32.8},{"t":"6h","x":960,"y":24.4},{"t":"6h","x":950,"y":19.5},{"t":"6h","x":940,"y":15.9},{"t":"6h","x":930,"y":13.3},{"t":"6h","x":922,"y":12.2},
      {"t":"4h","x":1200,"y":31.3},{"t":"4h","x":1190,"y":31.1},{"t":"4h","x":1180,"y":33},{"t":"4h","x":1170,"y":39.1},{"t":"4h","x":1160,"y":51},{"t":"4h","x":1150,"y":61.9},{"t":"4h","x":1140,"y":67},{"t":"4h","x":1133,"y":68},{"t":"4h","x":1120,"y":64.4},{"t":"4h","x":1110,"y":57.1},{"t":"4h","x":1100,"y":51},{"t":"4h","x":1090,"y":54.7},{"t":"4h","x":1080,"y":63.2},{"t":"4h","x":1070,"y":69.8},{"t":"4h","x":1062,"y":72.8},{"t":"4h","x":1050,"y":70.4},{"t":"4h","x":1040,"y":66.2},{"t":"4h","x":1030,"y":61.9},{"t":"4h","x":1020,"y":58.3},{"t":"4h","x":1010,"y":54.7},{"t":"4h","x":1000,"y":51.6},{"t":"4h","x":990,"y":50.4},{"t":"4h","x":980,"y":44.4},{"t":"4h","x":970,"y":34.1},{"t":"4h","x":960,"y":25},{"t":"4h","x":950,"y":18.9},{"t":"4h","x":940,"y":15.3},{"t":"4h","x":930,"y":13.3},{"t":"4h","x":922,"y":12.6},
      {"t":"2h","x":1200,"y":25.8},{"t":"2h","x":1190,"y":25.2},{"t":"2h","x":1180,"y":26},{"t":"2h","x":1170,"y":30.4},{"t":"2h","x":1160,"y":40.1},{"t":"2h","x":1150,"y":50.4},{"t":"2h","x":1140,"y":55.3},{"t":"2h","x":1133,"y":56.2},{"t":"2h","x":1121,"y":48.6},{"t":"2h","x":1110,"y":39.9},{"t":"2h","x":1100,"y":34.7},{"t":"2h","x":1089,"y":41.3},{"t":"2h","x":1078,"y":51},{"t":"2h","x":1068,"y":55.6},{"t":"2h","x":1063,"y":56.2},{"t":"2h","x":1052,"y":52.3},{"t":"2h","x":1041,"y":43.7},{"t":"2h","x":1030,"y":35.9},{"t":"2h","x":1017,"y":31.6},{"t":"2h","x":1001,"y":33.5},{"t":"2h","x":991,"y":36.3},{"t":"2h","x":982,"y":34.1},{"t":"2h","x":974,"y":26.8},{"t":"2h","x":961,"y":15.9},{"t":"2h","x":950,"y":12.4},{"t":"2h","x":940,"y":11},{"t":"2h","x":930,"y":10.9},{"t":"2h","x":922,"y":10.8}
    ],
    "f2": [
      {"t":"48h","x":1200,"y":14.7},{"t":"48h","x":1190,"y":15.3},{"t":"48h","x":1180,"y":16.5},{"t":"48h","x":1170,"y":18.5},{"t":"48h","x":1160,"y":21.3},{"t":"48h","x":1150,"y":25.6},{"t":"48h","x":1140,"y":32.8},{"t":"48h","x":1130,"y":43.7},{"t":"48h","x":1120,"y":53.5},{"t":"48h","x":1110,"y":59.3},{"t":"48h","x":1100,"y":62.5},{"t":"48h","x":1090,"y":66.2},{"t":"48h","x":1080,"y":70.4},{"t":"48h","x":1070,"y":74.7},{"t":"48h","x":1060,"y":78.9},{"t":"48h","x":1050,"y":84.4},{"t":"48h","x":1040,"y":89.2},{"t":"48h","x":1032,"y":92},{"t":"48h","x":1020,"y":88},{"t":"48h","x":1010,"y":75.3},{"t":"48h","x":1000,"y":60.7},{"t":"48h","x":990,"y":43.7},{"t":"48h","x":980,"y":31},{"t":"48h","x":970,"y":25},{"t":"48h","x":960,"y":22.2},{"t":"48h","x":950,"y":19.5},{"t":"48h","x":940,"y":15.9},{"t":"48h","x":930,"y":13.3},{"t":"48h","x":920,"y":11.3},
      {"t":"24h","x":1200,"y":14.1},{"t":"24h","x":1190,"y":14.8},{"t":"24h","x":1180,"y":16},{"t":"24h","x":1170,"y":18},{"t":"24h","x":1160,"y":20.9},{"t":"24h","x":1150,"y":25.3},{"t":"24h","x":1140,"y":32.5},{"t":"24h","x":1130,"y":43.4},{"t":"24h","x":1120,"y":53.3},{"t":"24h","x":1110,"y":59.1},{"t":"24h","x":1100,"y":62.3},{"t":"24h","x":1090,"y":66},{"t":"24h","x":1080,"y":70.2},{"t":"24h","x":1070,"y":74.5},{"t":"24h","x":1060,"y":78.8},{"t":"24h","x":1050,"y":84.2},{"t":"24h","x":1040,"y":89.2},{"t":"24h","x":1032,"y":92},{"t":"24h","x":1020,"y":87.6},{"t":"24h","x":1010,"y":74.3},{"t":"24h","x":1000,"y":59},{"t":"24h","x":990,"y":42},{"t":"24h","x":980,"y":29.2},{"t":"24h","x":970,"y":24.2},{"t":"24h","x":960,"y":21.7},{"t":"24h","x":950,"y":18.9},{"t":"24h","x":940,"y":15.3},{"t":"24h","x":930,"y":12.8},{"t":"24h","x":920,"y":10.9},
      {"t":"6h","x":1200,"y":14.5},{"t":"6h","x":1190,"y":15},{"t":"6h","x":1180,"y":16.2},{"t":"6h","x":1170,"y":18.1},{"t":"6h","x":1160,"y":20.7},{"t":"6h","x":1150,"y":25},{"t":"6h","x":1140,"y":31.6},{"t":"6h","x":1130,"y":42.5},{"t":"6h","x":1120,"y":52.8},{"t":"6h","x":1110,"y":58.7},{"t":"6h","x":1100,"y":61.9},{"t":"6h","x":1090,"y":65.3},{"t":"6h","x":1080,"y":69.2},{"t":"6h","x":1070,"y":73.1},{"t":"6h","x":1060,"y":77.3},{"t":"6h","x":1050,"y":82.2},{"t":"6h","x":1040,"y":87},{"t":"6h","x":1030,"y":89.5},{"t":"6h","x":1020,"y":86.2},{"t":"6h","x":1010,"y":74.7},{"t":"6h","x":1000,"y":60.1},{"t":"6h","x":990,"y":43.7},{"t":"6h","x":980,"y":31.6},{"t":"6h","x":970,"y":25.4},{"t":"6h","x":960,"y":23.2},{"t":"6h","x":950,"y":20.5},{"t":"6h","x":940,"y":16.5},{"t":"6h","x":930,"y":13.7},{"t":"6h","x":920,"y":12.2},
      {"t":"4h","x":1200,"y":15},{"t":"4h","x":1190,"y":15.8},{"t":"4h","x":1180,"y":17.2},{"t":"4h","x":1170,"y":19.4},{"t":"4h","x":1160,"y":23.1},{"t":"4h","x":1150,"y":28},{"t":"4h","x":1140,"y":37.1},{"t":"4h","x":1130,"y":48.6},{"t":"4h","x":1120,"y":56.5},{"t":"4h","x":1110,"y":61.3},{"t":"4h","x":1100,"y":64.4},{"t":"4h","x":1090,"y":67.8},{"t":"4h","x":1080,"y":71.6},{"t":"4h","x":1070,"y":75.5},{"t":"4h","x":1060,"y":79.9},{"t":"4h","x":1050,"y":84.7},{"t":"4h","x":1040,"y":89.5},{"t":"4h","x":1030,"y":92},{"t":"4h","x":1020,"y":88.6},{"t":"4h","x":1010,"y":76.5},{"t":"4h","x":1000,"y":61.3},{"t":"4h","x":990,"y":44.4},{"t":"4h","x":980,"y":31.6},{"t":"4h","x":970,"y":25.4},{"t":"4h","x":960,"y":22.6},{"t":"4h","x":950,"y":20.2},{"t":"4h","x":940,"y":16.1},{"t":"4h","x":930,"y":13.5},{"t":"4h","x":920,"y":11.6},
      {"t":"2h","x":1200,"y":21},{"t":"2h","x":1190,"y":21},{"t":"2h","x":1180,"y":22.2},{"t":"2h","x":1170,"y":25.6},{"t":"2h","x":1160,"y":32.8},{"t":"2h","x":1150,"y":41.3},{"t":"2h","x":1140,"y":48.6},{"t":"2h","x":1130,"y":51.4},{"t":"2h","x":1125,"y":51.6},{"t":"2h","x":1115,"y":49.8},{"t":"2h","x":1105,"y":48.6},{"t":"2h","x":1095,"y":51},{"t":"2h","x":1085,"y":57.1},{"t":"2h","x":1075,"y":61.9},{"t":"2h","x":1065,"y":64.6},{"t":"2h","x":1058,"y":65.3},{"t":"2h","x":1050,"y":64.4},{"t":"2h","x":1040,"y":61.9},{"t":"2h","x":1030,"y":58.3},{"t":"2h","x":1020,"y":54.1},{"t":"2h","x":1010,"y":48.6},{"t":"2h","x":1000,"y":43.7},{"t":"2h","x":990,"y":37.9},{"t":"2h","x":980,"y":31.6},{"t":"2h","x":970,"y":23.2},{"t":"2h","x":960,"y":18.3},{"t":"2h","x":950,"y":15.3},{"t":"2h","x":940,"y":13.3},{"t":"2h","x":930,"y":11.6},{"t":"2h","x":920,"y":10}
    ],
    "f3": [
      {"t":"48h","x":1200,"y":19.3},{"t":"48h","x":1190,"y":20.5},{"t":"48h","x":1180,"y":22.2},{"t":"48h","x":1170,"y":25},{"t":"48h","x":1160,"y":28.6},{"t":"48h","x":1150,"y":33.5},{"t":"48h","x":1140,"y":40.1},{"t":"48h","x":1130,"y":49.2},{"t":"48h","x":1120,"y":57.1},{"t":"48h","x":1110,"y":63.8},{"t":"48h","x":1100,"y":67},{"t":"48h","x":1090,"y":70.4},{"t":"48h","x":1080,"y":74.1},{"t":"48h","x":1070,"y":77.7},{"t":"48h","x":1060,"y":81.9},{"t":"48h","x":1050,"y":86.2},{"t":"48h","x":1040,"y":90.4},{"t":"48h","x":1030,"y":92.2},{"t":"48h","x":1020,"y":89.2},{"t":"48h","x":1010,"y":76.5},{"t":"48h","x":1000,"y":59.5},{"t":"48h","x":990,"y":45.5},{"t":"48h","x":980,"y":36.4},{"t":"48h","x":970,"y":31},{"t":"48h","x":960,"y":29.2},{"t":"48h","x":950,"y":26.2},{"t":"48h","x":940,"y":21.9},{"t":"48h","x":930,"y":19.3},{"t":"48h","x":920,"y":17.8},
      {"t":"24h","x":1200,"y":19.5},{"t":"24h","x":1190,"y":20.7},{"t":"24h","x":1180,"y":22.3},{"t":"24h","x":1170,"y":24.6},{"t":"24h","x":1160,"y":28},{"t":"24h","x":1150,"y":32.8},{"t":"24h","x":1140,"y":39.5},{"t":"24h","x":1130,"y":48.6},{"t":"24h","x":1120,"y":57.7},{"t":"24h","x":1110,"y":64.1},{"t":"24h","x":1100,"y":67.4},{"t":"24h","x":1090,"y":71},{"t":"24h","x":1080,"y":75},{"t":"24h","x":1070,"y":79.2},{"t":"24h","x":1060,"y":83.5},{"t":"24h","x":1050,"y":87.8},{"t":"24h","x":1040,"y":91.6},{"t":"24h","x":1035,"y":92.5},{"t":"24h","x":1030,"y":92.2},{"t":"24h","x":1020,"y":87.4},{"t":"24h","x":1010,"y":71.6},{"t":"24h","x":1000,"y":52.3},{"t":"24h","x":990,"y":36.4},{"t":"24h","x":980,"y":28},{"t":"24h","x":970,"y":25},{"t":"24h","x":960,"y":25.6},{"t":"24h","x":950,"y":21.9},{"t":"24h","x":940,"y":18.9},{"t":"24h","x":930,"y":16.8},{"t":"24h","x":920,"y":15.6},
      {"t":"6h","x":1200,"y":19.9},{"t":"6h","x":1190,"y":21.5},{"t":"6h","x":1180,"y":23.7},{"t":"6h","x":1170,"y":27.4},{"t":"6h","x":1160,"y":32.2},{"t":"6h","x":1150,"y":38.9},{"t":"6h","x":1140,"y":47.4},{"t":"6h","x":1130,"y":56.4},{"t":"6h","x":1120,"y":63.2},{"t":"6h","x":1110,"y":65.6},{"t":"6h","x":1100,"y":67.4},{"t":"6h","x":1090,"y":70.1},{"t":"6h","x":1080,"y":73.1},{"t":"6h","x":1070,"y":76.5},{"t":"6h","x":1060,"y":80.7},{"t":"6h","x":1050,"y":85.2},{"t":"6h","x":1040,"y":89.8},{"t":"6h","x":1030,"y":92.5},{"t":"6h","x":1020,"y":90.4},{"t":"6h","x":1010,"y":80.1},{"t":"6h","x":1000,"y":64.4},{"t":"6h","x":990,"y":48.6},{"t":"6h","x":980,"y":37.7},{"t":"6h","x":970,"y":31},{"t":"6h","x":960,"y":29},{"t":"6h","x":950,"y":25.8},{"t":"6h","x":940,"y":21.9},{"t":"6h","x":930,"y":19.3},{"t":"6h","x":920,"y":17.8},
      {"t":"4h","x":1200,"y":19.9},{"t":"4h","x":1190,"y":21.7},{"t":"4h","x":1180,"y":24.3},{"t":"4h","x":1170,"y":28.6},{"t":"4h","x":1160,"y":35.3},{"t":"4h","x":1150,"y":43.7},{"t":"4h","x":1140,"y":52.2},{"t":"4h","x":1130,"y":58.3},{"t":"4h","x":1123,"y":59.5},{"t":"4h","x":1115,"y":58.3},{"t":"4h","x":1100,"y":58.3},{"t":"4h","x":1090,"y":61.9},{"t":"4h","x":1080,"y":66.8},{"t":"4h","x":1070,"y":70.4},{"t":"4h","x":1060,"y":75.3},{"t":"4h","x":1050,"y":78.3},{"t":"4h","x":1040,"y":80.1},{"t":"4h","x":1033,"y":81.1},{"t":"4h","x":1020,"y":79.5},{"t":"4h","x":1010,"y":71.6},{"t":"4h","x":1000,"y":55.9},{"t":"4h","x":990,"y":43.7},{"t":"4h","x":980,"y":34.6},{"t":"4h","x":970,"y":25.6},{"t":"4h","x":960,"y":24.2},{"t":"4h","x":950,"y":20.2},{"t":"4h","x":940,"y":17.4},{"t":"4h","x":930,"y":15.6},{"t":"4h","x":920,"y":14.6},
      {"t":"2h","x":1200,"y":32.2},{"t":"2h","x":1190,"y":31.4},{"t":"2h","x":1180,"y":32.8},{"t":"2h","x":1170,"y":37.7},{"t":"2h","x":1160,"y":47.4},{"t":"2h","x":1150,"y":59.5},{"t":"2h","x":1140,"y":66.8},{"t":"2h","x":1134,"y":68},{"t":"2h","x":1125,"y":63.2},{"t":"2h","x":1120,"y":57.1},{"t":"2h","x":1110,"y":44.9},{"t":"2h","x":1100,"y":40.3},{"t":"2h","x":1090,"y":47.4},{"t":"2h","x":1080,"y":60.7},{"t":"2h","x":1070,"y":67},{"t":"2h","x":1063,"y":68},{"t":"2h","x":1050,"y":63.7},{"t":"2h","x":1040,"y":54.7},{"t":"2h","x":1030,"y":43.7},{"t":"2h","x":1020,"y":39.1},{"t":"2h","x":1010,"y":36.7},{"t":"2h","x":1000,"y":40.7},{"t":"2h","x":990,"y":45.5},{"t":"2h","x":980,"y":41.3},{"t":"2h","x":970,"y":25.6},{"t":"2h","x":960,"y":18.3},{"t":"2h","x":950,"y":16.5},{"t":"2h","x":940,"y":15.3},{"t":"2h","x":930,"y":14.7},{"t":"2h","x":920,"y":14.5}
    ],
    "a1": [{"s":"PO₄³⁻ (A)","x":1035.5,"y":95.3},{"s":"HPO₄²⁻ (D)","x":1166.6,"y":65},{"s":"PO₄³⁻ (D)","x":1063.6,"y":59.5},{"s":"HPO₄²⁻ (D)","x":958,"y":57.1}],
    "a2": [{"s":"PO₄³⁻ (A)","x":1035.9,"y":95.9},{"s":"PO₄³⁻ (D)","x":1053.6,"y":69.6},{"s":"HPO₄²⁻ (D)","x":1157.2,"y":59.3}],
    "a3": [{"s":"PO₄³⁻ (A)","x":1031.5,"y":95.6},{"s":"HPO₄²⁻ (D)","x":1140.6,"y":77.1},{"s":"PO₄³⁻ (D)","x":1042.6,"y":71},{"s":"HPO₄²⁻ (D)","x":959.7,"y":53.5}],
    "r1": [{"x":1154.5,"y":60.7,"x2":1135.8,"y2":57.3,"d":22},{"x":958,"y":54.7,"x2":991.4,"y2":37.2,"d":131}],
    "r2": [{"x":1149,"y":55,"x2":1131.8,"y2":52,"d":21}],
    "r3": [{"x":1147.5,"y":73.1,"x2":1135.6,"y2":69.3,"d":36},{"x":977.6,"y":51,"x2":988.7,"y2":47.9,"d":148}]
  },
  "resolve": {"scale": {"color": "independent"}},
  "spacing": 309,
  "bounds": "flush",
  "vconcat": [
    {
      "spacing": 0,
      "bounds": "flush",
      "resolve": {"scale": {"color": "independent"}},
      "hconcat": [
        {"width": 7, "height": 10, "data": {"values": []}, "mark": "point", "view": {"stroke": null}},
        {
          "spacing": 43,
          "bounds": "flush",
          "resolve": {"scale": {"color": "independent"}},
          "hconcat": [
            {
              "width": 337, "height": 251,
              "layer": [
                {"data": {"values": [{}]}, "mark": {"type": "rect", "fill": "#eef0f6", "stroke": "#000", "strokeDash": [4, 3], "strokeWidth": 1.3}, "encoding": {"x": {"datum": 25.4}, "x2": {"datum": 28.2}, "y": {"datum": 0}, "y2": {"datum": 100}}},
                {"data": {"name": "x1"}, "mark": {"type": "line", "strokeWidth": 1.6},
                 "encoding": {
                   "x": {"field": "x", "type": "quantitative", "scale": {"domain": [10, 55], "nice": false, "zero": false}, "axis": {"title": "2 Theta (°)", "values": [10,15,20,25,30,35,40,45,50,55], "labelExpr": "datum.value % 10 === 0 ? datum.label : ''", "labelFontSize": 11, "titleFontSize": 10, "labelPadding": 2, "titlePadding": 4}},
                   "y": {"field": "y", "type": "quantitative", "scale": {"domain": [0, 100], "nice": false}, "axis": {"title": "Intensity (a.u.)", "labels": false, "ticks": false, "titleFontSize": 10, "titlePadding": 19}},
                   "color": {"field": "t", "type": "nominal", "scale": {"domain": ["48h","24h","6h","4h","2h"], "range": ["#000000","#2233ff","#1c8c1c","#ff8c1a","#ff1f8e"]}, "legend": null}
                 }},
                {"data": {"name": "k1"}, "mark": {"type": "text", "fontSize": 9.5}, "encoding": {"x": {"field": "x", "type": "quantitative"}, "y": {"field": "y", "type": "quantitative"}, "text": {"field": "s"}}},
                {"data": {"name": "n1"}, "mark": {"type": "text", "fontSize": 12}, "encoding": {"x": {"field": "x", "type": "quantitative"}, "y": {"field": "y", "type": "quantitative"}, "text": {"field": "s"}}}
              ]
            },
            {
              "spacing": 41,
              "bounds": "flush",
              "resolve": {"scale": {"color": "independent"}},
              "hconcat": [
                {
                  "width": 335, "height": 251,
                  "layer": [
                    {"data": {"values": [{}]}, "mark": {"type": "rect", "fill": "#eef0f6", "stroke": "#000", "strokeDash": [4, 3], "strokeWidth": 1.3}, "encoding": {"x": {"datum": 25.4}, "x2": {"datum": 28.2}, "y": {"datum": 0}, "y2": {"datum": 100}}},
                    {"data": {"name": "x2"}, "mark": {"type": "line", "strokeWidth": 1.6},
                     "encoding": {
                       "x": {"field": "x", "type": "quantitative", "scale": {"domain": [10, 55], "nice": false, "zero": false}, "axis": {"title": "2 Theta (°)", "values": [10,15,20,25,30,35,40,45,50,55], "labelExpr": "datum.value % 10 === 0 ? datum.label : ''", "labelFontSize": 11, "titleFontSize": 10, "labelPadding": 2, "titlePadding": 4}},
                       "y": {"field": "y", "type": "quantitative", "scale": {"domain": [0, 100], "nice": false}, "axis": {"title": "Intensity (a.u.)", "labels": false, "ticks": false, "titleFontSize": 10, "titlePadding": 15}},
                       "color": {"field": "t", "type": "nominal", "scale": {"domain": ["48h","24h","6h","4h","2h"], "range": ["#000000","#2233ff","#1c8c1c","#ff8c1a","#ff1f8e"]}, "legend": null}
                     }},
                    {"data": {"name": "k2"}, "mark": {"type": "text", "fontSize": 9.5}, "encoding": {"x": {"field": "x", "type": "quantitative"}, "y": {"field": "y", "type": "quantitative"}, "text": {"field": "s"}}},
                    {"data": {"name": "n2"}, "mark": {"type": "text", "fontSize": 12}, "encoding": {"x": {"field": "x", "type": "quantitative"}, "y": {"field": "y", "type": "quantitative"}, "text": {"field": "s"}}}
                  ]
                },
                {
                  "width": 341, "height": 251,
                  "layer": [
                    {"data": {"values": [{}]}, "mark": {"type": "rect", "fill": "#eef0f6", "stroke": "#000", "strokeDash": [4, 3], "strokeWidth": 1.3}, "encoding": {"x": {"datum": 25.7}, "x2": {"datum": 28.4}, "y": {"datum": 0}, "y2": {"datum": 100}}},
                    {"data": {"name": "x3"}, "mark": {"type": "line", "strokeWidth": 1.6},
                     "encoding": {
                       "x": {"field": "x", "type": "quantitative", "scale": {"domain": [10, 55], "nice": false, "zero": false}, "axis": {"title": "2 Theta (°)", "values": [10,15,20,25,30,35,40,45,50,55], "labelExpr": "datum.value % 10 === 0 ? datum.label : ''", "labelFontSize": 11, "titleFontSize": 10, "labelPadding": 2, "titlePadding": 4}},
                       "y": {"field": "y", "type": "quantitative", "scale": {"domain": [0, 100], "nice": false}, "axis": {"title": "Intensity (a.u.)", "labels": false, "ticks": false, "titleFontSize": 10, "titlePadding": 12}},
                       "color": {"field": "t", "type": "nominal", "scale": {"domain": ["48h","24h","6h","4h","2h"], "range": ["#000000","#2233ff","#1c8c1c","#ff8c1a","#ff1f8e"]}, "legend": null}
                     }},
                    {"data": {"name": "k3"}, "mark": {"type": "text", "fontSize": 9.5}, "encoding": {"x": {"field": "x", "type": "quantitative"}, "y": {"field": "y", "type": "quantitative"}, "text": {"field": "s"}}},
                    {"data": {"name": "n3"}, "mark": {"type": "text", "fontSize": 12, "clip": true}, "encoding": {"x": {"field": "x", "type": "quantitative"}, "y": {"field": "y", "type": "quantitative"}, "text": {"field": "s"}}}
                  ]
                }
              ]
            }
          ]
        }
      ]
    },
    {
      "spacing": 34,
      "bounds": "flush",
      "resolve": {"scale": {"color": "independent"}},
      "hconcat": [
        {
          "width": 347, "height": 275,
          "layer": [
            {"data": {"values": [{}]}, "mark": {"type": "rule", "color": "#000", "strokeWidth": 2}, "encoding": {"x": {"datum": 1221.4}, "y": {"datum": 215.3}, "y2": {"datum": -16}}},
            {"data": {"values": [{}]}, "mark": {"type": "rule", "color": "#000", "strokeWidth": 2}, "encoding": {"x": {"datum": 914}, "y": {"datum": 215.3}, "y2": {"datum": -16}}},
            {"data": {"values": [{}]}, "mark": {"type": "rule", "color": "#000", "strokeWidth": 2}, "encoding": {"x": {"datum": 606.4}, "y": {"datum": 215.3}, "y2": {"datum": -16}}},
            {"data": {"values": [{}]}, "mark": {"type": "rule", "color": "#000", "strokeWidth": 2}, "encoding": {"x": {"datum": 1221.4}, "x2": {"datum": 319.5}, "y": {"datum": 215.3}}},
            {"data": {"values": [{}]}, "mark": {"type": "rule", "color": "#000", "strokeWidth": 2}, "encoding": {"x": {"datum": 1221.4}, "x2": {"datum": 319.5}, "y": {"datum": 105.6}}},
            {"data": {"values": [{}]}, "mark": {"type": "rect", "fill": "#dce6f2", "stroke": "#555", "strokeWidth": 1.5}, "encoding": {"x": {"datum": 1218.7}, "x2": {"datum": 1159.9}, "y": {"datum": 112.7}, "y2": {"datum": 101.8}}},
            {"data": {"values": [{}]}, "mark": {"type": "text", "text": "CPC", "fontSize": 20, "baseline": "middle"}, "encoding": {"x": {"datum": 1189.3}, "y": {"datum": 107.3}}},
            {"data": {"name": "f1"}, "mark": {"type": "line", "strokeWidth": 2.3, "interpolate": "monotone"},
             "encoding": {
               "x": {"field": "x", "type": "quantitative", "scale": {"domain": [1200, 922], "nice": false, "zero": false}, "axis": {"title": "Wavenumber (cm⁻¹)", "format": "d", "values": [1200,1175,1150,1125,1100,1075,1050,1025,1000,975,950,925], "labelExpr": "datum.value % 50 === 0 ? datum.label : ''", "labelFontSize": 11, "titleFontSize": 13, "labelPadding": 4, "titlePadding": 6}},
               "y": {"field": "y", "type": "quantitative", "scale": {"domain": [0, 100], "nice": false}, "axis": {"title": "Intensity (a.u.)", "labels": false, "ticks": false, "titleFontSize": 11, "titlePadding": 11}},
               "color": {"field": "t", "type": "nominal", "scale": {"domain": ["48h","24h","6h","4h","2h"], "range": ["#000000","#2233ff","#1c8c1c","#ff8c1a","#ff1f8e"]},
                 "legend": {"orient": "top-right", "offset": 0, "title": null, "symbolType": "M-1.3,0H4.5", "symbolSize": 100, "symbolStrokeWidth": 2.5, "labelFontSize": 12, "labelFont": "Liberation Serif", "labelColor": "#111", "labelOffset": 17, "padding": 2, "rowPadding": 2, "strokeColor": "#888", "fillColor": "#ffffff"}}
             }},
            {"data": {"name": "r1"}, "mark": {"type": "rule", "color": "#444", "strokeWidth": 1}, "encoding": {"x": {"field": "x", "type": "quantitative"}, "y": {"field": "y", "type": "quantitative"}, "x2": {"field": "x2"}, "y2": {"field": "y2"}}},
            {"data": {"name": "r1"}, "mark": {"type": "point", "shape": "triangle-right", "filled": true, "color": "#444", "size": 22, "opacity": 1}, "encoding": {"x": {"field": "x2", "type": "quantitative"}, "y": {"field": "y2", "type": "quantitative"}, "angle": {"field": "d", "type": "quantitative", "scale": null}}},
            {"data": {"name": "a1"}, "mark": {"type": "text", "fontSize": 12}, "encoding": {"x": {"field": "x", "type": "quantitative"}, "y": {"field": "y", "type": "quantitative"}, "text": {"field": "s"}}}
          ]
        },
        {
          "spacing": 39,
          "bounds": "flush",
          "resolve": {"scale": {"color": "independent"}},
          "hconcat": [
            {
              "width": 342, "height": 275,
              "layer": [
                {"data": {"values": [{}]}, "mark": {"type": "text", "text": "Journal Pre-proof", "font": "Liberation Sans", "fontWeight": "normal", "fontSize": 110, "angle": -44, "align": "center", "baseline": "middle", "color": "#000", "opacity": 0.1}, "encoding": {"x": {"datum": 1049.4}, "y": {"datum": 26.2}}},
                {"data": {"values": [{}]}, "mark": {"type": "rect", "fill": "#dce6f2", "stroke": "#555", "strokeWidth": 1.5}, "encoding": {"x": {"datum": 1219.9}, "x2": {"datum": 1129.8}, "y": {"datum": 112.7}, "y2": {"datum": 101.8}}},
                {"data": {"values": [{}]}, "mark": {"type": "text", "text": "CPC-MB25", "fontSize": 20, "baseline": "middle"}, "encoding": {"x": {"datum": 1175.4}, "y": {"datum": 107.3}}},
                {"data": {"name": "f2"}, "mark": {"type": "line", "strokeWidth": 2.3, "interpolate": "monotone"},
                 "encoding": {
                   "x": {"field": "x", "type": "quantitative", "scale": {"domain": [1200, 920], "nice": false, "zero": false}, "axis": {"title": "Wavenumber (cm⁻¹)", "format": "d", "values": [1200,1175,1150,1125,1100,1075,1050,1025,1000,975,950,925], "labelExpr": "datum.value % 50 === 0 ? datum.label : ''", "labelFontSize": 11, "titleFontSize": 13, "labelPadding": 4, "titlePadding": 6}},
                   "y": {"field": "y", "type": "quantitative", "scale": {"domain": [0, 100], "nice": false}, "axis": {"title": "Intensity (a.u.)", "labels": false, "ticks": false, "titleFontSize": 11, "titlePadding": 9}},
                   "color": {"field": "t", "type": "nominal", "scale": {"domain": ["48h","24h","6h","4h","2h"], "range": ["#000000","#2233ff","#1c8c1c","#ff8c1a","#ff1f8e"]},
                     "legend": {"orient": "top-right", "offset": 0, "title": null, "symbolType": "M-1.3,0H4.5", "symbolSize": 100, "symbolStrokeWidth": 2.5, "labelFontSize": 12, "labelFont": "Liberation Serif", "labelColor": "#111", "labelOffset": 17, "padding": 2, "rowPadding": 2, "strokeColor": "#888", "fillColor": "#ffffff"}}
                 }},
                {"data": {"name": "r2"}, "mark": {"type": "rule", "color": "#444", "strokeWidth": 1}, "encoding": {"x": {"field": "x", "type": "quantitative"}, "y": {"field": "y", "type": "quantitative"}, "x2": {"field": "x2"}, "y2": {"field": "y2"}}},
                {"data": {"name": "r2"}, "mark": {"type": "point", "shape": "triangle-right", "filled": true, "color": "#444", "size": 22, "opacity": 1}, "encoding": {"x": {"field": "x2", "type": "quantitative"}, "y": {"field": "y2", "type": "quantitative"}, "angle": {"field": "d", "type": "quantitative", "scale": null}}},
                {"data": {"name": "a2"}, "mark": {"type": "text", "fontSize": 12}, "encoding": {"x": {"field": "x", "type": "quantitative"}, "y": {"field": "y", "type": "quantitative"}, "text": {"field": "s"}}}
              ]
            },
            {
              "width": 338, "height": 275,
              "layer": [
                {"data": {"values": [{}]}, "mark": {"type": "rect", "fill": "#dce6f2", "stroke": "#555", "strokeWidth": 1.5}, "encoding": {"x": {"datum": 1217.1}, "x2": {"datum": 1089.6}, "y": {"datum": 112.7}, "y2": {"datum": 101.8}}},
                {"data": {"values": [{}]}, "mark": {"type": "text", "text": "CPC-MB25-Alg5", "fontSize": 20, "baseline": "middle"}, "encoding": {"x": {"datum": 1153.4}, "y": {"datum": 107.3}}},
                {"data": {"name": "f3"}, "mark": {"type": "line", "strokeWidth": 2.3, "interpolate": "monotone"},
                 "encoding": {
                   "x": {"field": "x", "type": "quantitative", "scale": {"domain": [1200, 920], "nice": false, "zero": false}, "axis": {"title": "Wavenumber (cm⁻¹)", "format": "d", "values": [1200,1175,1150,1125,1100,1075,1050,1025,1000,975,950,925], "labelExpr": "datum.value % 50 === 0 ? datum.label : ''", "labelFontSize": 11, "titleFontSize": 13, "labelPadding": 4, "titlePadding": 6}},
                   "y": {"field": "y", "type": "quantitative", "scale": {"domain": [0, 100], "nice": false}, "axis": {"title": "Intensity (a.u.)", "labels": false, "ticks": false, "titleFontSize": 11, "titlePadding": 6}},
                   "color": {"field": "t", "type": "nominal", "scale": {"domain": ["48h","24h","6h","4h","2h"], "range": ["#000000","#2233ff","#1c8c1c","#ff8c1a","#ff1f8e"]},
                     "legend": {"orient": "top-right", "offset": 0, "title": null, "symbolType": "M-1.3,0H4.5", "symbolSize": 100, "symbolStrokeWidth": 2.5, "labelFontSize": 12, "labelFont": "Liberation Serif", "labelColor": "#111", "labelOffset": 17, "padding": 2, "rowPadding": 2, "strokeColor": "#888", "fillColor": "#ffffff"}}
                 }},
                {"data": {"name": "r3"}, "mark": {"type": "rule", "color": "#444", "strokeWidth": 1}, "encoding": {"x": {"field": "x", "type": "quantitative"}, "y": {"field": "y", "type": "quantitative"}, "x2": {"field": "x2"}, "y2": {"field": "y2"}}},
                {"data": {"name": "r3"}, "mark": {"type": "point", "shape": "triangle-right", "filled": true, "color": "#444", "size": 22, "opacity": 1}, "encoding": {"x": {"field": "x2", "type": "quantitative"}, "y": {"field": "y2", "type": "quantitative"}, "angle": {"field": "d", "type": "quantitative", "scale": null}}},
                {"data": {"name": "a3"}, "mark": {"type": "text", "fontSize": 12}, "encoding": {"x": {"field": "x", "type": "quantitative"}, "y": {"field": "y", "type": "quantitative"}, "text": {"field": "s"}}}
              ]
            }
          ]
        }
      ]
    }
  ]
}
